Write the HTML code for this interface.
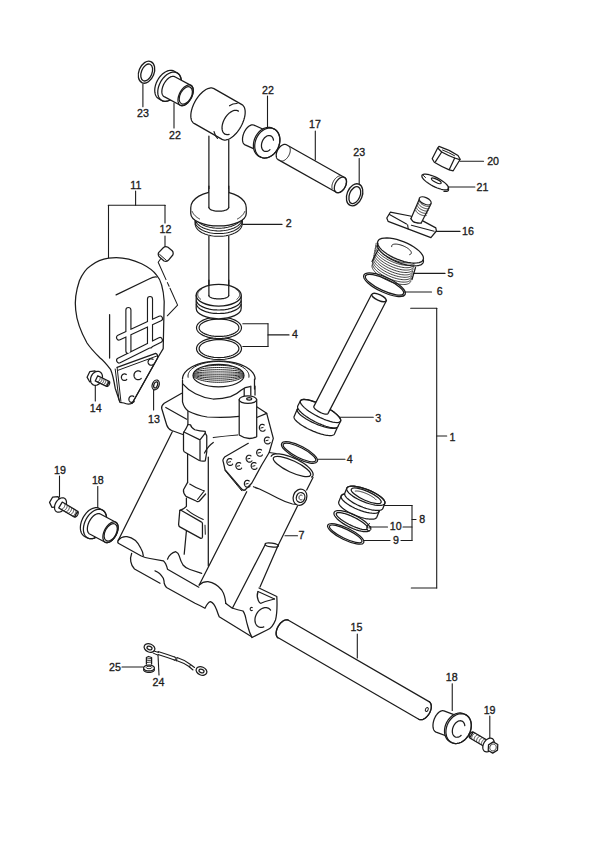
<!DOCTYPE html><html><head><meta charset="utf-8"><style>html,body{margin:0;padding:0;background:#fff}svg{display:block}text{font-family:"Liberation Sans",sans-serif;fill:#1c1c1c}</style></head><body>
<svg width="600" height="850" viewBox="0 0 600 850">
<rect width="600" height="850" fill="#fff"/>
<text transform="translate(143 116.5) scale(0.92 1)" font-size="11.6" text-anchor="middle" stroke="#1c1c1c" stroke-width="0.35">23</text>
<text transform="translate(174.9 138.5) scale(0.92 1)" font-size="11.6" text-anchor="middle" stroke="#1c1c1c" stroke-width="0.35">22</text>
<text transform="translate(268 93.55) scale(0.92 1)" font-size="11.6" text-anchor="middle" stroke="#1c1c1c" stroke-width="0.35">22</text>
<text transform="translate(315 127.8) scale(0.92 1)" font-size="11.6" text-anchor="middle" stroke="#1c1c1c" stroke-width="0.35">17</text>
<text transform="translate(359.15 155.6) scale(0.92 1)" font-size="11.6" text-anchor="middle" stroke="#1c1c1c" stroke-width="0.35">23</text>
<text transform="translate(493.1 164.9) scale(0.92 1)" font-size="11.6" text-anchor="middle" stroke="#1c1c1c" stroke-width="0.35">20</text>
<text transform="translate(482.4 190.9) scale(0.92 1)" font-size="11.6" text-anchor="middle" stroke="#1c1c1c" stroke-width="0.35">21</text>
<text transform="translate(467.9 235.2) scale(0.92 1)" font-size="11.6" text-anchor="middle" stroke="#1c1c1c" stroke-width="0.35">16</text>
<text transform="translate(135.9 188.9) scale(0.92 1)" font-size="11.6" text-anchor="middle" stroke="#1c1c1c" stroke-width="0.35">11</text>
<text transform="translate(165.4 233) scale(0.92 1)" font-size="11.6" text-anchor="middle" stroke="#1c1c1c" stroke-width="0.35">12</text>
<text transform="translate(288.6 227.1) scale(0.92 1)" font-size="11.6" text-anchor="middle" stroke="#1c1c1c" stroke-width="0.35">2</text>
<text transform="translate(450.4 276.8) scale(0.92 1)" font-size="11.6" text-anchor="middle" stroke="#1c1c1c" stroke-width="0.35">5</text>
<text transform="translate(439.7 295.2) scale(0.92 1)" font-size="11.6" text-anchor="middle" stroke="#1c1c1c" stroke-width="0.35">6</text>
<text transform="translate(294.9 338.3) scale(0.92 1)" font-size="11.6" text-anchor="middle" stroke="#1c1c1c" stroke-width="0.35">4</text>
<text transform="translate(95.7 411.6) scale(0.92 1)" font-size="11.6" text-anchor="middle" stroke="#1c1c1c" stroke-width="0.35">14</text>
<text transform="translate(153.9 422.8) scale(0.92 1)" font-size="11.6" text-anchor="middle" stroke="#1c1c1c" stroke-width="0.35">13</text>
<text transform="translate(378.3 421.5) scale(0.92 1)" font-size="11.6" text-anchor="middle" stroke="#1c1c1c" stroke-width="0.35">3</text>
<text transform="translate(452.4 440.5) scale(0.92 1)" font-size="11.6" text-anchor="middle" stroke="#1c1c1c" stroke-width="0.35">1</text>
<text transform="translate(349.6 463.1) scale(0.92 1)" font-size="11.6" text-anchor="middle" stroke="#1c1c1c" stroke-width="0.35">4</text>
<text transform="translate(59.9 474) scale(0.92 1)" font-size="11.6" text-anchor="middle" stroke="#1c1c1c" stroke-width="0.35">19</text>
<text transform="translate(97.8 484.05) scale(0.92 1)" font-size="11.6" text-anchor="middle" stroke="#1c1c1c" stroke-width="0.35">18</text>
<text transform="translate(422.15 523.1) scale(0.92 1)" font-size="11.6" text-anchor="middle" stroke="#1c1c1c" stroke-width="0.35">8</text>
<text transform="translate(395.65 530.3) scale(0.92 1)" font-size="11.6" text-anchor="middle" stroke="#1c1c1c" stroke-width="0.35">10</text>
<text transform="translate(301.4 539) scale(0.92 1)" font-size="11.6" text-anchor="middle" stroke="#1c1c1c" stroke-width="0.35">7</text>
<text transform="translate(396 543.55) scale(0.92 1)" font-size="11.6" text-anchor="middle" stroke="#1c1c1c" stroke-width="0.35">9</text>
<text transform="translate(356.4 630.6) scale(0.92 1)" font-size="11.6" text-anchor="middle" stroke="#1c1c1c" stroke-width="0.35">15</text>
<text transform="translate(114.9 670.8) scale(0.92 1)" font-size="11.6" text-anchor="middle" stroke="#1c1c1c" stroke-width="0.35">25</text>
<text transform="translate(158.4 686.2) scale(0.92 1)" font-size="11.6" text-anchor="middle" stroke="#1c1c1c" stroke-width="0.35">24</text>
<text transform="translate(451.7 680.9) scale(0.92 1)" font-size="11.6" text-anchor="middle" stroke="#1c1c1c" stroke-width="0.35">18</text>
<text transform="translate(489.6 713.8) scale(0.92 1)" font-size="11.6" text-anchor="middle" stroke="#1c1c1c" stroke-width="0.35">19</text>
<line x1="142.9" y1="84" x2="142.9" y2="106.7" stroke="#1c1c1c" stroke-width="1.1" stroke-linecap="round"/>
<line x1="174" y1="103" x2="174" y2="128" stroke="#1c1c1c" stroke-width="1.1" stroke-linecap="round"/>
<line x1="267.5" y1="96" x2="267.5" y2="127.4" stroke="#1c1c1c" stroke-width="1.1" stroke-linecap="round"/>
<line x1="315.3" y1="131" x2="315.3" y2="160" stroke="#1c1c1c" stroke-width="1.1" stroke-linecap="round"/>
<line x1="359.2" y1="158.5" x2="359.2" y2="184.2" stroke="#1c1c1c" stroke-width="1.1" stroke-linecap="round"/>
<line x1="460" y1="161.2" x2="483.5" y2="161.2" stroke="#1c1c1c" stroke-width="1.1" stroke-linecap="round"/>
<line x1="448" y1="187" x2="474.9" y2="187" stroke="#1c1c1c" stroke-width="1.1" stroke-linecap="round"/>
<line x1="436" y1="231.4" x2="460" y2="231.4" stroke="#1c1c1c" stroke-width="1.1" stroke-linecap="round"/>
<line x1="135.6" y1="191" x2="135.6" y2="205.3" stroke="#1c1c1c" stroke-width="1.1" stroke-linecap="round"/>
<line x1="108.5" y1="205.3" x2="165" y2="205.3" stroke="#1c1c1c" stroke-width="1.1" stroke-linecap="round"/>
<line x1="108.5" y1="205.3" x2="108.5" y2="258.2" stroke="#1c1c1c" stroke-width="1.1" stroke-linecap="round"/>
<line x1="165" y1="205.3" x2="165" y2="223" stroke="#1c1c1c" stroke-width="1.1" stroke-linecap="round"/>
<line x1="165" y1="236" x2="165" y2="246.5" stroke="#1c1c1c" stroke-width="1.1" stroke-linecap="round"/>
<line x1="243" y1="224.4" x2="282" y2="224.4" stroke="#1c1c1c" stroke-width="1.1" stroke-linecap="round"/>
<line x1="413.5" y1="273.4" x2="445" y2="273.4" stroke="#1c1c1c" stroke-width="1.1" stroke-linecap="round"/>
<line x1="404.5" y1="292" x2="431.5" y2="292" stroke="#1c1c1c" stroke-width="1.1" stroke-linecap="round"/>
<line x1="242.8" y1="323.8" x2="268" y2="323.8" stroke="#1c1c1c" stroke-width="1.1" stroke-linecap="round"/>
<line x1="268" y1="323.8" x2="268" y2="346.5" stroke="#1c1c1c" stroke-width="1.1" stroke-linecap="round"/>
<line x1="242.8" y1="346.5" x2="268" y2="346.5" stroke="#1c1c1c" stroke-width="1.1" stroke-linecap="round"/>
<line x1="268" y1="334.9" x2="289" y2="334.9" stroke="#1c1c1c" stroke-width="1.1" stroke-linecap="round"/>
<line x1="95.3" y1="384.7" x2="95.3" y2="400.9" stroke="#1c1c1c" stroke-width="1.1" stroke-linecap="round"/>
<line x1="153.6" y1="390" x2="153.6" y2="410" stroke="#1c1c1c" stroke-width="1.1" stroke-linecap="round"/>
<line x1="338.3" y1="417.3" x2="373.3" y2="417.3" stroke="#1c1c1c" stroke-width="1.1" stroke-linecap="round"/>
<line x1="410.7" y1="308.3" x2="436.7" y2="308.3" stroke="#1c1c1c" stroke-width="1.1" stroke-linecap="round"/>
<line x1="436.7" y1="308.3" x2="436.7" y2="588" stroke="#1c1c1c" stroke-width="1.1" stroke-linecap="round"/>
<line x1="411.3" y1="588" x2="436.7" y2="588" stroke="#1c1c1c" stroke-width="1.1" stroke-linecap="round"/>
<line x1="436.7" y1="436" x2="446.7" y2="436" stroke="#1c1c1c" stroke-width="1.1" stroke-linecap="round"/>
<line x1="318.3" y1="459.3" x2="345" y2="459.3" stroke="#1c1c1c" stroke-width="1.1" stroke-linecap="round"/>
<line x1="59.5" y1="476" x2="59.5" y2="497" stroke="#1c1c1c" stroke-width="1.1" stroke-linecap="round"/>
<line x1="97.75" y1="486.5" x2="97.75" y2="507.5" stroke="#1c1c1c" stroke-width="1.1" stroke-linecap="round"/>
<line x1="383.75" y1="505.5" x2="412" y2="505.5" stroke="#1c1c1c" stroke-width="1.1" stroke-linecap="round"/>
<line x1="412" y1="505.5" x2="412" y2="540.5" stroke="#1c1c1c" stroke-width="1.1" stroke-linecap="round"/>
<line x1="403" y1="527" x2="412" y2="527" stroke="#1c1c1c" stroke-width="1.1" stroke-linecap="round"/>
<line x1="412" y1="519.5" x2="416" y2="519.5" stroke="#1c1c1c" stroke-width="1.1" stroke-linecap="round"/>
<line x1="370" y1="527" x2="387.5" y2="527" stroke="#1c1c1c" stroke-width="1.1" stroke-linecap="round"/>
<line x1="364" y1="540.5" x2="390" y2="540.5" stroke="#1c1c1c" stroke-width="1.1" stroke-linecap="round"/>
<line x1="401" y1="540.5" x2="412" y2="540.5" stroke="#1c1c1c" stroke-width="1.1" stroke-linecap="round"/>
<line x1="285" y1="535.8" x2="297.5" y2="535.8" stroke="#1c1c1c" stroke-width="1.1" stroke-linecap="round"/>
<line x1="357.3" y1="634" x2="357.3" y2="658" stroke="#1c1c1c" stroke-width="1.1" stroke-linecap="round"/>
<line x1="122" y1="667" x2="143" y2="667" stroke="#1c1c1c" stroke-width="1.1" stroke-linecap="round"/>
<line x1="158" y1="655" x2="159" y2="675" stroke="#1c1c1c" stroke-width="1.1" stroke-linecap="round"/>
<line x1="452.25" y1="683.8" x2="452.25" y2="710.4" stroke="#1c1c1c" stroke-width="1.1" stroke-linecap="round"/>
<line x1="489.8" y1="716" x2="489.8" y2="738" stroke="#1c1c1c" stroke-width="1.1" stroke-linecap="round"/>
<ellipse cx="146.5" cy="72.2" rx="7.6" ry="11.5" transform="rotate(22 146.5 72.2)" fill="none" stroke="#1c1c1c" stroke-width="1.3"/>
<ellipse cx="146.7" cy="72.5" rx="5.3" ry="8.9" transform="rotate(22 146.7 72.5)" fill="none" stroke="#1c1c1c" stroke-width="1.3"/>
<ellipse cx="354.6" cy="194.8" rx="7.6" ry="11.5" transform="rotate(22 354.6 194.8)" fill="none" stroke="#1c1c1c" stroke-width="1.3"/>
<ellipse cx="354.8" cy="195.1" rx="5.3" ry="8.9" transform="rotate(22 354.8 195.1)" fill="none" stroke="#1c1c1c" stroke-width="1.3"/>
<path d="M158.71 98.75 L158.04 98.31 L157.43 97.8 L156.87 97.2 L156.37 96.53 L155.94 95.79 L155.57 94.98 L155.26 94.12 L155.03 93.19 L154.86 92.22 L154.77 91.19 L154.75 90.14 L154.8 89.05 L154.93 87.93 L155.12 86.8 L155.39 85.65 L155.73 84.51 L156.13 83.36 L156.59 82.23 L157.12 81.11 L157.7 80.01 L158.34 78.95 L159.03 77.93 L159.76 76.94 L160.54 76.01 L161.35 75.13 L162.2 74.32 L163.07 73.57 L163.96 72.89 L164.87 72.28 L165.79 71.75 L166.71 71.31 L167.63 70.95 L168.54 70.67 L169.45 70.49 L170.33 70.39 L171.19 70.39 L172.02 70.47 L172.82 70.64 L173.58 70.9 L174.29 71.25 L177.29 72.95 L177.96 73.39 L178.57 73.9 L179.13 74.5 L179.63 75.17 L180.06 75.91 L180.43 76.72 L180.74 77.58 L180.97 78.51 L181.14 79.48 L181.23 80.51 L181.25 81.56 L181.2 82.65 L181.07 83.77 L180.88 84.9 L180.61 86.05 L180.27 87.19 L179.87 88.34 L179.41 89.47 L178.88 90.59 L178.3 91.69 L177.66 92.75 L176.97 93.77 L176.24 94.76 L175.46 95.69 L174.65 96.57 L173.8 97.38 L172.93 98.13 L172.04 98.81 L171.13 99.42 L170.21 99.95 L169.29 100.39 L168.37 100.75 L167.46 101.03 L166.55 101.21 L165.67 101.31 L164.81 101.31 L163.98 101.23 L163.18 101.06 L162.42 100.8 L161.71 100.45 Z" fill="#fff" stroke="#1c1c1c" stroke-width="1.25" stroke-linejoin="round" stroke-linecap="round" />
<path d="M161.71 100.45 L163.18 101.06 L164.81 101.31 L166.55 101.21 L168.37 100.75 L170.21 99.95 L172.04 98.81 L173.8 97.38 L175.46 95.69 L176.97 93.77 L178.3 91.69 L179.41 89.47 L180.27 87.19 L180.88 84.9 L181.2 82.65 L181.23 80.51 L180.97 78.51 L180.43 76.72 L179.63 75.17 L178.57 73.9 L177.29 72.95 L175.82 72.34 L174.19 72.09 L172.45 72.19 L170.63 72.65 L168.79 73.45 L166.96 74.59 L165.2 76.02 L163.54 77.71 L162.03 79.63 L160.7 81.71 L159.59 83.93 L158.73 86.21 L158.12 88.5 L157.8 90.75 L157.77 92.89 L158.03 94.89 L158.57 96.68 L159.37 98.23 L160.43 99.5 L161.71 100.45 Z" fill="none" stroke="#1c1c1c" stroke-width="1.25" stroke-linejoin="round" stroke-linecap="round" />
<path d="M164.18 96.67 L163.76 96.41 L163.38 96.09 L163.04 95.71 L162.74 95.27 L162.48 94.79 L162.27 94.25 L162.1 93.67 L161.97 93.04 L161.89 92.38 L161.86 91.68 L161.87 90.95 L161.94 90.19 L162.04 89.41 L162.2 88.62 L162.4 87.81 L162.64 87 L162.93 86.18 L163.25 85.37 L163.62 84.56 L164.02 83.77 L164.45 83 L164.92 82.25 L165.41 81.53 L165.93 80.84 L166.47 80.18 L167.03 79.57 L167.61 79 L168.19 78.47 L168.79 78 L169.39 77.58 L169.99 77.22 L170.59 76.92 L171.18 76.67 L171.76 76.49 L172.32 76.37 L172.87 76.32 L173.4 76.32 L173.9 76.4 L174.38 76.53 L174.82 76.73 L190.92 85.33 L191.34 85.59 L191.72 85.91 L192.06 86.29 L192.36 86.73 L192.62 87.21 L192.83 87.75 L193 88.33 L193.13 88.96 L193.21 89.62 L193.24 90.32 L193.23 91.05 L193.16 91.81 L193.06 92.59 L192.9 93.38 L192.7 94.19 L192.46 95 L192.17 95.82 L191.85 96.63 L191.48 97.44 L191.08 98.23 L190.65 99 L190.18 99.75 L189.69 100.47 L189.17 101.16 L188.63 101.82 L188.07 102.43 L187.49 103 L186.91 103.53 L186.31 104 L185.71 104.42 L185.11 104.78 L184.51 105.08 L183.92 105.33 L183.34 105.51 L182.78 105.63 L182.23 105.68 L181.7 105.68 L181.2 105.6 L180.72 105.47 L180.28 105.27 Z" fill="#fff" stroke="#1c1c1c" stroke-width="1.25" stroke-linejoin="round" stroke-linecap="round" />
<path d="M180.28 105.27 L181.2 105.6 L182.23 105.68 L183.34 105.51 L184.51 105.08 L185.71 104.42 L186.91 103.53 L188.07 102.43 L189.17 101.16 L190.18 99.75 L191.08 98.23 L191.85 96.63 L192.46 95 L192.9 93.38 L193.16 91.81 L193.24 90.32 L193.13 88.96 L192.83 87.75 L192.36 86.73 L191.72 85.91 L190.92 85.33 L190 85 L188.97 84.92 L187.86 85.09 L186.69 85.52 L185.49 86.18 L184.29 87.07 L183.13 88.17 L182.03 89.44 L181.02 90.85 L180.12 92.37 L179.35 93.97 L178.74 95.6 L178.3 97.22 L178.04 98.79 L177.96 100.28 L178.07 101.64 L178.37 102.85 L178.84 103.87 L179.48 104.69 L180.28 105.27 Z" fill="none" stroke="#1c1c1c" stroke-width="1.25" stroke-linejoin="round" stroke-linecap="round" />
<ellipse cx="185.8" cy="95.4" rx="5.6" ry="9.4" transform="rotate(28 185.8 95.4)" fill="none" stroke="#1c1c1c" stroke-width="1.25"/>
<line x1="208.9" y1="136" x2="208.9" y2="200" stroke="#1c1c1c" stroke-width="1.25" stroke-linecap="round"/>
<line x1="228.75" y1="140" x2="228.75" y2="200" stroke="#1c1c1c" stroke-width="1.25" stroke-linecap="round"/>
<path d="M194.08 123.36 L193.43 122.92 L192.84 122.37 L192.32 121.73 L191.88 120.98 L191.51 120.14 L191.22 119.22 L191 118.21 L190.87 117.13 L190.82 115.98 L190.84 114.77 L190.95 113.5 L191.14 112.19 L191.41 110.84 L191.76 109.46 L192.18 108.06 L192.68 106.65 L193.24 105.23 L193.87 103.82 L194.57 102.42 L195.32 101.04 L196.12 99.69 L196.98 98.38 L197.87 97.12 L198.81 95.92 L199.78 94.77 L200.77 93.7 L201.78 92.7 L202.81 91.78 L203.84 90.95 L204.88 90.21 L205.91 89.57 L206.92 89.04 L207.92 88.6 L208.9 88.28 L209.84 88.06 L210.75 87.95 L211.62 87.96 L212.44 88.07 L213.21 88.3 L213.92 88.64 L241.92 104.64 L242.57 105.08 L243.16 105.63 L243.68 106.27 L244.12 107.02 L244.49 107.86 L244.78 108.78 L245 109.79 L245.13 110.87 L245.18 112.02 L245.16 113.23 L245.05 114.5 L244.86 115.81 L244.59 117.16 L244.24 118.54 L243.82 119.94 L243.32 121.35 L242.76 122.77 L242.13 124.18 L241.43 125.58 L240.68 126.96 L239.88 128.31 L239.02 129.62 L238.13 130.88 L237.19 132.08 L236.22 133.23 L235.23 134.3 L234.22 135.3 L233.19 136.22 L232.16 137.05 L231.12 137.79 L230.09 138.43 L229.08 138.96 L228.08 139.4 L227.1 139.72 L226.16 139.94 L225.25 140.05 L224.38 140.04 L223.56 139.93 L222.79 139.7 L222.08 139.36 Z" fill="#fff" stroke="#1c1c1c" stroke-width="1.25" stroke-linejoin="round" stroke-linecap="round" />
<path d="M229.12 134.42 L228.01 134.63 L226.95 134.65 L225.96 134.48 L225.06 134.13 L224.25 133.61 L223.55 132.91 L222.98 132.06 L222.53 131.06 L222.22 129.94 L222.05 128.7 L222.03 127.36 L222.15 125.95 L222.41 124.49 L222.81 123 L223.34 121.5 L223.99 120.02 L224.76 118.57 L225.63 117.19 L226.59 115.88 L227.63 114.68 L228.72 113.59 L229.86 112.64 L231.02 111.84 L232.19 111.2 L233.34 110.73 L234.47 110.45 L235.56 110.34 L236.58 110.42 L237.53 110.68 L238.38 111.12" fill="none" stroke="#1c1c1c" stroke-width="1.25" stroke-linejoin="round" stroke-linecap="round" />
<path d="M229.5 105.8 Q233 103.3 237.2 103.5" fill="none" stroke="#1c1c1c" stroke-width="1.1" stroke-linejoin="round" stroke-linecap="round" />
<path d="M214 131.5 Q215 135.5 217.5 138.5" fill="none" stroke="#1c1c1c" stroke-width="1.1" stroke-linejoin="round" stroke-linecap="round" />
<path d="M278.13 159.61 L277.8 159.39 L277.49 159.12 L277.21 158.82 L276.96 158.47 L276.75 158.09 L276.57 157.66 L276.42 157.21 L276.31 156.72 L276.24 156.21 L276.21 155.67 L276.21 155.11 L276.25 154.53 L276.33 153.94 L276.45 153.33 L276.6 152.72 L276.78 152.11 L277.01 151.5 L277.26 150.89 L277.54 150.29 L277.86 149.7 L278.2 149.13 L278.56 148.57 L278.95 148.04 L279.36 147.53 L279.79 147.05 L280.23 146.61 L280.69 146.2 L281.15 145.82 L281.63 145.49 L282.11 145.19 L282.58 144.94 L283.06 144.74 L283.53 144.58 L284 144.46 L284.45 144.4 L284.89 144.38 L285.32 144.41 L285.72 144.49 L286.11 144.62 L286.47 144.79 L344.57 177.49 L344.9 177.71 L345.21 177.98 L345.49 178.28 L345.74 178.63 L345.95 179.01 L346.13 179.44 L346.28 179.89 L346.39 180.38 L346.46 180.89 L346.49 181.43 L346.49 181.99 L346.45 182.57 L346.37 183.16 L346.25 183.77 L346.1 184.38 L345.92 184.99 L345.69 185.6 L345.44 186.21 L345.16 186.81 L344.84 187.4 L344.5 187.97 L344.14 188.53 L343.75 189.06 L343.34 189.57 L342.91 190.05 L342.47 190.49 L342.01 190.9 L341.55 191.28 L341.07 191.61 L340.59 191.91 L340.12 192.16 L339.64 192.36 L339.17 192.52 L338.7 192.64 L338.25 192.7 L337.81 192.72 L337.38 192.69 L336.98 192.61 L336.59 192.48 L336.23 192.31 Z" fill="#fff" stroke="#1c1c1c" stroke-width="1.25" stroke-linejoin="round" stroke-linecap="round" />
<path d="M336.23 192.31 L336.98 192.61 L337.81 192.72 L338.7 192.64 L339.64 192.36 L340.59 191.91 L341.55 191.28 L342.47 190.49 L343.34 189.57 L344.14 188.53 L344.84 187.4 L345.44 186.21 L345.92 184.99 L346.25 183.77 L346.45 182.57 L346.49 181.43 L346.39 180.38 L346.13 179.44 L345.74 178.63 L345.21 177.98 L344.57 177.49 L343.82 177.19 L342.99 177.08 L342.1 177.16 L341.16 177.44 L340.21 177.89 L339.25 178.52 L338.33 179.31 L337.46 180.23 L336.66 181.27 L335.96 182.4 L335.36 183.59 L334.88 184.81 L334.55 186.03 L334.35 187.23 L334.31 188.37 L334.41 189.42 L334.67 190.36 L335.06 191.17 L335.59 191.82 L336.23 192.31 Z" fill="none" stroke="#1c1c1c" stroke-width="1.25" stroke-linejoin="round" stroke-linecap="round" />
<path d="M281.33 161.11 L281.81 161.12 L282.3 161.07 L282.82 160.97 L283.34 160.8 L283.87 160.58 L284.4 160.31 L284.93 159.98 L285.45 159.6 L285.97 159.17 L286.47 158.7 L286.95 158.18 L287.42 157.63 L287.86 157.05 L288.27 156.44 L288.65 155.8 L288.99 155.14 L289.3 154.47 L289.57 153.8 L289.8 153.11 L289.99 152.43 L290.13 151.76 L290.23 151.1 L290.28 150.45 L290.29 149.83 L290.25 149.23 L290.16 148.66 L290.03 148.13 L289.85 147.64 L289.63 147.19 L289.37 146.79" fill="none" stroke="#1c1c1c" stroke-width="1.0" stroke-linejoin="round" stroke-linecap="round" />
<path d="M332.17 188.77 L332.05 188.31 L331.97 187.83 L331.92 187.32 L331.91 186.79 L331.93 186.24 L331.98 185.67 L332.07 185.1 L332.2 184.51 L332.36 183.92 L332.55 183.33 L332.77 182.74 L333.02 182.16 L333.3 181.58 L333.6 181.01 L333.93 180.46 L334.29 179.93 L334.66 179.42 L335.06 178.93 L335.47 178.47 L335.9 178.04 L336.33 177.64 L336.78 177.27 L337.24 176.95 L337.69 176.65 L338.15 176.4 L338.61 176.19 L339.07 176.02 L339.52 175.9 L339.96 175.82 L340.39 175.78" fill="none" stroke="#1c1c1c" stroke-width="1.0" stroke-linejoin="round" stroke-linecap="round" />
<path d="M245.08 144.85 L244.67 144.63 L244.29 144.35 L243.94 144.01 L243.62 143.62 L243.34 143.17 L243.1 142.68 L242.9 142.13 L242.74 141.54 L242.62 140.91 L242.54 140.25 L242.51 139.55 L242.52 138.83 L242.57 138.08 L242.66 137.31 L242.8 136.53 L242.98 135.73 L243.2 134.94 L243.46 134.14 L243.75 133.35 L244.08 132.57 L244.44 131.8 L244.84 131.06 L245.26 130.34 L245.71 129.64 L246.18 128.98 L246.68 128.36 L247.19 127.78 L247.71 127.24 L248.25 126.75 L248.79 126.31 L249.34 125.93 L249.89 125.6 L250.44 125.33 L250.98 125.12 L251.51 124.97 L252.03 124.88 L252.53 124.85 L253.02 124.89 L253.48 124.99 L253.92 125.15 L270.42 132.55 L270.83 132.77 L271.21 133.05 L271.56 133.39 L271.88 133.78 L272.16 134.23 L272.4 134.72 L272.6 135.27 L272.76 135.86 L272.88 136.49 L272.96 137.15 L272.99 137.85 L272.98 138.57 L272.93 139.32 L272.84 140.09 L272.7 140.87 L272.52 141.67 L272.3 142.46 L272.04 143.26 L271.75 144.05 L271.42 144.83 L271.06 145.6 L270.66 146.34 L270.24 147.06 L269.79 147.76 L269.32 148.42 L268.82 149.04 L268.31 149.62 L267.79 150.16 L267.25 150.65 L266.71 151.09 L266.16 151.47 L265.61 151.8 L265.06 152.07 L264.52 152.28 L263.99 152.43 L263.47 152.52 L262.97 152.55 L262.48 152.51 L262.02 152.41 L261.58 152.25 Z" fill="#fff" stroke="#1c1c1c" stroke-width="1.25" stroke-linejoin="round" stroke-linecap="round" />
<path d="M259.46 156.56 L258.64 156.13 L257.86 155.61 L257.13 155.01 L256.46 154.34 L255.84 153.58 L255.29 152.76 L254.8 151.88 L254.38 150.94 L254.04 149.94 L253.77 148.9 L253.57 147.82 L253.45 146.71 L253.41 145.56 L253.44 144.4 L253.55 143.23 L253.74 142.05 L254.01 140.88 L254.35 139.71 L254.76 138.56 L255.24 137.43 L255.78 136.34 L256.39 135.28 L257.06 134.26 L257.78 133.3 L258.56 132.39 L259.38 131.54 L260.24 130.76 L261.13 130.06 L262.06 129.42 L263.01 128.87 L263.98 128.4 L264.96 128.02 L265.95 127.73 L266.94 127.52 L267.92 127.41 L268.89 127.39 L269.84 127.47 L270.77 127.63 L271.67 127.89 L272.54 128.24 L273.84 128.84 L274.66 129.27 L275.44 129.79 L276.17 130.39 L276.84 131.06 L277.46 131.82 L278.01 132.64 L278.5 133.52 L278.92 134.46 L279.26 135.46 L279.53 136.5 L279.73 137.58 L279.85 138.69 L279.89 139.84 L279.86 141 L279.75 142.17 L279.56 143.35 L279.29 144.52 L278.95 145.69 L278.54 146.84 L278.06 147.97 L277.52 149.06 L276.91 150.12 L276.24 151.14 L275.52 152.1 L274.74 153.01 L273.92 153.86 L273.06 154.64 L272.17 155.34 L271.24 155.98 L270.29 156.53 L269.32 157 L268.34 157.38 L267.35 157.67 L266.36 157.88 L265.38 157.99 L264.41 158.01 L263.46 157.93 L262.53 157.77 L261.63 157.51 L260.76 157.16 Z" fill="#fff" stroke="#1c1c1c" stroke-width="1.25" stroke-linejoin="round" stroke-linecap="round" />
<path d="M260.76 157.16 L262.53 157.77 L264.41 158.01 L266.36 157.88 L268.34 157.38 L270.29 156.53 L272.17 155.34 L273.92 153.86 L275.52 152.1 L276.91 150.12 L278.06 147.97 L278.95 145.69 L279.56 143.35 L279.86 141 L279.85 138.69 L279.53 136.5 L278.92 134.46 L278.01 132.64 L276.84 131.06 L275.44 129.79 L273.84 128.84 L272.07 128.23 L270.19 127.99 L268.24 128.12 L266.26 128.62 L264.31 129.47 L262.43 130.66 L260.68 132.14 L259.08 133.9 L257.69 135.88 L256.54 138.03 L255.65 140.31 L255.04 142.65 L254.74 145 L254.75 147.31 L255.07 149.5 L255.68 151.54 L256.59 153.36 L257.76 154.94 L259.16 156.21 L260.76 157.16 Z" fill="none" stroke="#1c1c1c" stroke-width="1.25" stroke-linejoin="round" stroke-linecap="round" />
<path d="M269.97 149.63 L269.27 150.22 L268.53 150.7 L267.79 151.07 L267.03 151.32 L266.29 151.46 L265.56 151.47 L264.87 151.35 L264.21 151.12 L263.61 150.77 L263.06 150.3 L262.59 149.73 L262.19 149.07 L261.87 148.31 L261.64 147.49 L261.5 146.6 L261.45 145.67 L261.49 144.7 L261.63 143.71 L261.86 142.72 L262.18 141.74 L262.58 140.79 L263.05 139.88 L263.59 139.03 L264.2 138.24 L264.85 137.54 L265.55 136.93 L266.27 136.42 L267.02 136.02 L267.77 135.73 L268.52 135.57 L269.25 135.53 L269.95 135.61 L270.62 135.81 L271.24 136.13 L271.8 136.57 L272.3 137.11 L272.72 137.75 L273.06 138.48 L273.31 139.29 L273.48 140.16" fill="none" stroke="#1c1c1c" stroke-width="1.25" stroke-linejoin="round" stroke-linecap="round" />
<path d="M242.2 210.5 L242.13 211.47 L241.91 212.42 L241.55 213.37 L241.05 214.3 L240.41 215.21 L239.64 216.08 L238.74 216.93 L237.71 217.73 L236.57 218.49 L235.32 219.2 L233.96 219.85 L232.51 220.45 L230.98 220.99 L229.37 221.46 L227.69 221.86 L225.96 222.2 L224.19 222.46 L222.38 222.65 L220.54 222.76 L218.7 222.8 L216.86 222.76 L215.02 222.65 L213.21 222.46 L211.44 222.2 L209.71 221.86 L208.03 221.46 L206.42 220.99 L204.89 220.45 L203.44 219.85 L202.08 219.2 L200.83 218.49 L199.69 217.73 L198.66 216.93 L197.76 216.08 L196.99 215.21 L196.35 214.3 L195.85 213.37 L195.49 212.42 L195.27 211.47 L195.2 210.5" fill="none" stroke="#1c1c1c" stroke-width="1.05" stroke-linejoin="round" stroke-linecap="round" />
<path d="M242.2 213.2 L242.13 214.17 L241.91 215.12 L241.55 216.07 L241.05 217 L240.41 217.91 L239.64 218.78 L238.74 219.63 L237.71 220.43 L236.57 221.19 L235.32 221.9 L233.96 222.55 L232.51 223.15 L230.98 223.69 L229.37 224.16 L227.69 224.56 L225.96 224.9 L224.19 225.16 L222.38 225.35 L220.54 225.46 L218.7 225.5 L216.86 225.46 L215.02 225.35 L213.21 225.16 L211.44 224.9 L209.71 224.56 L208.03 224.16 L206.42 223.69 L204.89 223.15 L203.44 222.55 L202.08 221.9 L200.83 221.19 L199.69 220.43 L198.66 219.63 L197.76 218.78 L196.99 217.91 L196.35 217 L195.85 216.07 L195.49 215.12 L195.27 214.17 L195.2 213.2" fill="none" stroke="#1c1c1c" stroke-width="1.05" stroke-linejoin="round" stroke-linecap="round" />
<path d="M242.2 215.9 L242.13 216.87 L241.91 217.82 L241.55 218.77 L241.05 219.7 L240.41 220.61 L239.64 221.48 L238.74 222.33 L237.71 223.13 L236.57 223.89 L235.32 224.6 L233.96 225.25 L232.51 225.85 L230.98 226.39 L229.37 226.86 L227.69 227.26 L225.96 227.6 L224.19 227.86 L222.38 228.05 L220.54 228.16 L218.7 228.2 L216.86 228.16 L215.02 228.05 L213.21 227.86 L211.44 227.6 L209.71 227.26 L208.03 226.86 L206.42 226.39 L204.89 225.85 L203.44 225.25 L202.08 224.6 L200.83 223.89 L199.69 223.13 L198.66 222.33 L197.76 221.48 L196.99 220.61 L196.35 219.7 L195.85 218.77 L195.49 217.82 L195.27 216.87 L195.2 215.9" fill="none" stroke="#1c1c1c" stroke-width="1.05" stroke-linejoin="round" stroke-linecap="round" />
<path d="M242.2 218.6 L242.13 219.57 L241.91 220.52 L241.55 221.47 L241.05 222.4 L240.41 223.31 L239.64 224.18 L238.74 225.03 L237.71 225.83 L236.57 226.59 L235.32 227.3 L233.96 227.95 L232.51 228.55 L230.98 229.09 L229.37 229.56 L227.69 229.96 L225.96 230.3 L224.19 230.56 L222.38 230.75 L220.54 230.86 L218.7 230.9 L216.86 230.86 L215.02 230.75 L213.21 230.56 L211.44 230.3 L209.71 229.96 L208.03 229.56 L206.42 229.09 L204.89 228.55 L203.44 227.95 L202.08 227.3 L200.83 226.59 L199.69 225.83 L198.66 225.03 L197.76 224.18 L196.99 223.31 L196.35 222.4 L195.85 221.47 L195.49 220.52 L195.27 219.57 L195.2 218.6" fill="none" stroke="#1c1c1c" stroke-width="1.05" stroke-linejoin="round" stroke-linecap="round" />
<path d="M242.2 221.3 L242.13 222.27 L241.91 223.22 L241.55 224.17 L241.05 225.1 L240.41 226.01 L239.64 226.88 L238.74 227.73 L237.71 228.53 L236.57 229.29 L235.32 230 L233.96 230.65 L232.51 231.25 L230.98 231.79 L229.37 232.26 L227.69 232.66 L225.96 233 L224.19 233.26 L222.38 233.45 L220.54 233.56 L218.7 233.6 L216.86 233.56 L215.02 233.45 L213.21 233.26 L211.44 233 L209.71 232.66 L208.03 232.26 L206.42 231.79 L204.89 231.25 L203.44 230.65 L202.08 230 L200.83 229.29 L199.69 228.53 L198.66 227.73 L197.76 226.88 L196.99 226.01 L196.35 225.1 L195.85 224.17 L195.49 223.22 L195.27 222.27 L195.2 221.3" fill="none" stroke="#1c1c1c" stroke-width="1.05" stroke-linejoin="round" stroke-linecap="round" />
<path d="M242.2 224 L242.13 224.97 L241.91 225.92 L241.55 226.87 L241.05 227.8 L240.41 228.71 L239.64 229.58 L238.74 230.43 L237.71 231.23 L236.57 231.99 L235.32 232.7 L233.96 233.35 L232.51 233.95 L230.98 234.49 L229.37 234.96 L227.69 235.36 L225.96 235.7 L224.19 235.96 L222.38 236.15 L220.54 236.26 L218.7 236.3 L216.86 236.26 L215.02 236.15 L213.21 235.96 L211.44 235.7 L209.71 235.36 L208.03 234.96 L206.42 234.49 L204.89 233.95 L203.44 233.35 L202.08 232.7 L200.83 231.99 L199.69 231.23 L198.66 230.43 L197.76 229.58 L196.99 228.71 L196.35 227.8 L195.85 226.87 L195.49 225.92 L195.27 224.97 L195.2 224" fill="none" stroke="#1c1c1c" stroke-width="1.05" stroke-linejoin="round" stroke-linecap="round" />
<line x1="195.2" y1="212" x2="195.2" y2="224" stroke="#1c1c1c" stroke-width="1.25" stroke-linecap="round"/>
<line x1="242.2" y1="212" x2="242.2" y2="224" stroke="#1c1c1c" stroke-width="1.25" stroke-linecap="round"/>
<line x1="208.9" y1="236" x2="208.9" y2="295" stroke="#1c1c1c" stroke-width="1.25" stroke-linecap="round"/>
<line x1="228.75" y1="236" x2="228.75" y2="295" stroke="#1c1c1c" stroke-width="1.25" stroke-linecap="round"/>
<path d="M190.75 207.75 L190.75 213.5 A27.75 12.5 0 0 0 246.25 213.5 L246.25 207.75 A27.75 16.5 0 0 0 190.75 207.75 Z" fill="#fff" stroke="#1c1c1c" stroke-width="1.25" stroke-linejoin="round" stroke-linecap="round" />
<path d="M199.55 218.97 L199.28 218.81 L199.01 218.66 L198.75 218.5 L198.49 218.35 L198.24 218.19 L197.99 218.02 L197.74 217.86 L197.5 217.69 L197.26 217.53 L197.03 217.36 L196.8 217.18 L196.57 217.01 L196.35 216.83 L196.14 216.66 L195.93 216.48 L195.72 216.3 L195.52 216.12 L195.33 215.93 L195.13 215.75 L194.95 215.56 L194.77 215.37 L194.59 215.18 L194.42 214.99 L194.25 214.8 L194.09 214.61 L193.93 214.41 L193.78 214.22 L193.63 214.02 L193.49 213.82 L193.36 213.62 L193.23 213.42 L193.1 213.22 L192.98 213.02 L192.86 212.81 L192.75 212.61 L192.65 212.41 L192.55 212.2 L192.46 211.99 L192.37 211.79 L192.29 211.58" fill="none" stroke="#1c1c1c" stroke-width="1.0" stroke-linejoin="round" stroke-linecap="round" />
<path d="M244.71 211.58 L244.63 211.79 L244.54 211.99 L244.45 212.2 L244.35 212.41 L244.25 212.61 L244.14 212.81 L244.02 213.02 L243.9 213.22 L243.77 213.42 L243.64 213.62 L243.51 213.82 L243.37 214.02 L243.22 214.22 L243.07 214.41 L242.91 214.61 L242.75 214.8 L242.58 214.99 L242.41 215.18 L242.23 215.37 L242.05 215.56 L241.87 215.75 L241.67 215.93 L241.48 216.12 L241.28 216.3 L241.07 216.48 L240.86 216.66 L240.65 216.83 L240.43 217.01 L240.2 217.18 L239.97 217.36 L239.74 217.53 L239.5 217.69 L239.26 217.86 L239.01 218.02 L238.76 218.19 L238.51 218.35 L238.25 218.5 L237.99 218.66 L237.72 218.81 L237.45 218.97" fill="none" stroke="#1c1c1c" stroke-width="1.0" stroke-linejoin="round" stroke-linecap="round" />
<path d="M208.9 189 L208.9 207.3 A9.9 3.9 0 0 0 228.75 207.3 L228.75 189 Z" fill="#fff" stroke="#1c1c1c" stroke-width="0" stroke-linejoin="round" stroke-linecap="round" />
<line x1="208.9" y1="186" x2="208.9" y2="207.3" stroke="#1c1c1c" stroke-width="1.25" stroke-linecap="round"/>
<line x1="228.75" y1="186" x2="228.75" y2="207.3" stroke="#1c1c1c" stroke-width="1.25" stroke-linecap="round"/>
<path d="M228.7 207.3 L228.67 207.61 L228.58 207.91 L228.43 208.21 L228.22 208.51 L227.95 208.79 L227.62 209.07 L227.24 209.34 L226.81 209.59 L226.33 209.83 L225.8 210.06 L225.23 210.27 L224.62 210.46 L223.97 210.63 L223.29 210.77 L222.59 210.9 L221.86 211.01 L221.11 211.09 L220.35 211.15 L219.58 211.19 L218.8 211.2 L218.02 211.19 L217.25 211.15 L216.49 211.09 L215.74 211.01 L215.01 210.9 L214.31 210.77 L213.63 210.63 L212.98 210.46 L212.37 210.27 L211.8 210.06 L211.27 209.83 L210.79 209.59 L210.36 209.34 L209.98 209.07 L209.65 208.79 L209.38 208.51 L209.17 208.21 L209.02 207.91 L208.93 207.61 L208.9 207.3" fill="none" stroke="#1c1c1c" stroke-width="1.25" stroke-linejoin="round" stroke-linecap="round" />
<path d="M241.5 348.6 L241.31 350.04 L240.73 351.45 L239.79 352.81 L238.49 354.1 L236.85 355.3 L234.91 356.38 L232.7 357.33 L230.25 358.13 L227.61 358.76 L224.82 359.23 L221.94 359.51 L219 359.6 L216.06 359.51 L213.18 359.23 L210.39 358.76 L207.75 358.13 L205.3 357.33 L203.09 356.38 L201.15 355.3 L199.51 354.1 L198.21 352.81 L197.27 351.45 L196.69 350.04 L196.5 348.6 L196.69 347.16 L197.27 345.75 L198.21 344.39 L199.51 343.1 L201.15 341.9 L203.09 340.82 L205.3 339.87 L207.75 339.07 L210.39 338.44 L213.18 337.97 L216.06 337.69 L219 337.6 L221.94 337.69 L224.82 337.97 L227.61 338.44 L230.25 339.07 L232.7 339.87 L234.91 340.82 L236.85 341.9 L238.49 343.1 L239.79 344.39 L240.73 345.75 L241.31 347.16 L241.5 348.6 Z M238.9 348.6 L238.73 347.43 L238.22 346.27 L237.39 345.16 L236.23 344.1 L234.79 343.12 L233.07 342.24 L231.11 341.46 L228.95 340.81 L226.62 340.29 L224.15 339.91 L221.6 339.68 L219 339.6 L216.4 339.68 L213.85 339.91 L211.38 340.29 L209.05 340.81 L206.89 341.46 L204.93 342.24 L203.21 343.12 L201.77 344.1 L200.61 345.16 L199.78 346.27 L199.27 347.43 L199.1 348.6 L199.27 349.77 L199.78 350.93 L200.61 352.04 L201.77 353.1 L203.21 354.08 L204.93 354.96 L206.89 355.74 L209.05 356.39 L211.38 356.91 L213.85 357.29 L216.4 357.52 L219 357.6 L221.6 357.52 L224.15 357.29 L226.62 356.91 L228.95 356.39 L231.11 355.74 L233.07 354.96 L234.79 354.08 L236.23 353.1 L237.39 352.04 L238.22 350.93 L238.73 349.77 L238.9 348.6 Z" fill="#fff" fill-rule="evenodd" stroke="#1c1c1c" stroke-width="1.2"/>
<path d="M241.5 327.75 L241.31 329.15 L240.73 330.53 L239.79 331.86 L238.49 333.12 L236.85 334.29 L234.91 335.35 L232.7 336.28 L230.25 337.06 L227.61 337.68 L224.82 338.13 L221.94 338.41 L219 338.5 L216.06 338.41 L213.18 338.13 L210.39 337.68 L207.75 337.06 L205.3 336.28 L203.09 335.35 L201.15 334.29 L199.51 333.12 L198.21 331.86 L197.27 330.53 L196.69 329.15 L196.5 327.75 L196.69 326.35 L197.27 324.97 L198.21 323.64 L199.51 322.38 L201.15 321.21 L203.09 320.15 L205.3 319.22 L207.75 318.44 L210.39 317.82 L213.18 317.37 L216.06 317.09 L219 317 L221.94 317.09 L224.82 317.37 L227.61 317.82 L230.25 318.44 L232.7 319.22 L234.91 320.15 L236.85 321.21 L238.49 322.38 L239.79 323.64 L240.73 324.97 L241.31 326.35 L241.5 327.75 Z M238.9 327.75 L238.73 326.61 L238.22 325.5 L237.39 324.42 L236.23 323.4 L234.79 322.45 L233.07 321.6 L231.11 320.85 L228.95 320.22 L226.62 319.71 L224.15 319.35 L221.6 319.12 L219 319.05 L216.4 319.12 L213.85 319.35 L211.38 319.71 L209.05 320.22 L206.89 320.85 L204.93 321.6 L203.21 322.45 L201.77 323.4 L200.61 324.42 L199.78 325.5 L199.27 326.61 L199.1 327.75 L199.27 328.89 L199.78 330 L200.61 331.08 L201.77 332.1 L203.21 333.05 L204.93 333.9 L206.89 334.65 L209.05 335.28 L211.38 335.79 L213.85 336.15 L216.4 336.38 L219 336.45 L221.6 336.38 L224.15 336.15 L226.62 335.79 L228.95 335.28 L231.11 334.65 L233.07 333.9 L234.79 333.05 L236.23 332.1 L237.39 331.08 L238.22 330 L238.73 328.89 L238.9 327.75 Z" fill="#fff" fill-rule="evenodd" stroke="#1c1c1c" stroke-width="1.2"/>
<path d="M196.2 295.2 L196.2 308.25 A22.5 10.5 0 0 0 241.2 308.25 L241.2 295.2 Z" fill="#fff" stroke="#1c1c1c" stroke-width="1.25" stroke-linejoin="round" stroke-linecap="round" />
<path d="M240.98 300.96 L240.7 301.7 L240.31 302.43 L239.8 303.14 L239.19 303.84 L238.47 304.51 L237.66 305.16 L236.74 305.78 L235.73 306.36 L234.64 306.91 L233.46 307.42 L232.21 307.9 L230.89 308.33 L229.51 308.71 L228.07 309.05 L226.58 309.34 L225.05 309.57 L223.49 309.76 L221.91 309.89 L220.31 309.97 L218.7 310 L217.09 309.97 L215.49 309.89 L213.91 309.76 L212.35 309.57 L210.82 309.34 L209.33 309.05 L207.89 308.71 L206.51 308.33 L205.19 307.9 L203.94 307.42 L202.76 306.91 L201.67 306.36 L200.66 305.78 L199.74 305.16 L198.93 304.51 L198.21 303.84 L197.6 303.14 L197.09 302.43 L196.7 301.7 L196.42 300.96" fill="none" stroke="#1c1c1c" stroke-width="1.25" stroke-linejoin="round" stroke-linecap="round" />
<path d="M240.98 304.46 L240.7 305.2 L240.31 305.93 L239.8 306.64 L239.19 307.34 L238.47 308.01 L237.66 308.66 L236.74 309.28 L235.73 309.86 L234.64 310.41 L233.46 310.92 L232.21 311.4 L230.89 311.83 L229.51 312.21 L228.07 312.55 L226.58 312.84 L225.05 313.07 L223.49 313.26 L221.91 313.39 L220.31 313.47 L218.7 313.5 L217.09 313.47 L215.49 313.39 L213.91 313.26 L212.35 313.07 L210.82 312.84 L209.33 312.55 L207.89 312.21 L206.51 311.83 L205.19 311.4 L203.94 310.92 L202.76 310.41 L201.67 309.86 L200.66 309.28 L199.74 308.66 L198.93 308.01 L198.21 307.34 L197.6 306.64 L197.09 305.93 L196.7 305.2 L196.42 304.46" fill="none" stroke="#1c1c1c" stroke-width="1.25" stroke-linejoin="round" stroke-linecap="round" />
<ellipse cx="218.7" cy="295.2" rx="22.5" ry="10.8" transform="rotate(0 218.7 295.2)" fill="#fff" stroke="#1c1c1c" stroke-width="1.25"/>
<path d="M200.51 299.15 L200.22 298.92 L199.95 298.69 L199.69 298.45 L199.44 298.21 L199.21 297.97 L199 297.72 L198.8 297.47 L198.62 297.22 L198.45 296.97 L198.3 296.71 L198.17 296.45 L198.05 296.19 L197.95 295.93 L197.87 295.67 L197.8 295.41 L197.75 295.15 L197.72 294.89 L197.7 294.62 L197.7 294.36 L197.72 294.09 L197.75 293.83 L197.81 293.57 L197.87 293.31 L197.96 293.05 L198.06 292.79 L198.18 292.53 L198.31 292.27 L198.46 292.01 L198.63 291.76 L198.81 291.51 L199.01 291.26 L199.23 291.02 L199.46 290.77 L199.71 290.53 L199.97 290.3 L200.24 290.06 L200.54 289.83 L200.84 289.61 L201.16 289.38 L201.5 289.17" fill="none" stroke="#1c1c1c" stroke-width="1.0" stroke-linejoin="round" stroke-linecap="round" />
<path d="M235.9 289.17 L236.24 289.38 L236.56 289.61 L236.86 289.83 L237.16 290.06 L237.43 290.3 L237.69 290.53 L237.94 290.77 L238.17 291.02 L238.39 291.26 L238.59 291.51 L238.77 291.76 L238.94 292.01 L239.09 292.27 L239.22 292.53 L239.34 292.79 L239.44 293.05 L239.53 293.31 L239.59 293.57 L239.65 293.83 L239.68 294.09 L239.7 294.36 L239.7 294.62 L239.68 294.89 L239.65 295.15 L239.6 295.41 L239.53 295.67 L239.45 295.93 L239.35 296.19 L239.23 296.45 L239.1 296.71 L238.95 296.97 L238.78 297.22 L238.6 297.47 L238.4 297.72 L238.19 297.97 L237.96 298.21 L237.71 298.45 L237.45 298.69 L237.18 298.92 L236.89 299.15" fill="none" stroke="#1c1c1c" stroke-width="1.0" stroke-linejoin="round" stroke-linecap="round" />
<path d="M208.9 286 L208.9 295.5 A9.9 3.4 0 0 0 228.75 295.5 L228.75 286 Z" fill="#fff" stroke="#1c1c1c" stroke-width="0" stroke-linejoin="round" stroke-linecap="round" />
<line x1="208.9" y1="280" x2="208.9" y2="295.5" stroke="#1c1c1c" stroke-width="1.25" stroke-linecap="round"/>
<line x1="228.75" y1="280" x2="228.75" y2="295.5" stroke="#1c1c1c" stroke-width="1.25" stroke-linecap="round"/>
<path d="M228.7 295.5 L228.67 295.77 L228.58 296.03 L228.43 296.29 L228.22 296.55 L227.95 296.8 L227.62 297.04 L227.24 297.28 L226.81 297.5 L226.33 297.71 L225.8 297.9 L225.23 298.09 L224.62 298.25 L223.97 298.4 L223.29 298.53 L222.59 298.64 L221.86 298.73 L221.11 298.81 L220.35 298.86 L219.58 298.89 L218.8 298.9 L218.02 298.89 L217.25 298.86 L216.49 298.81 L215.74 298.73 L215.01 298.64 L214.31 298.53 L213.63 298.4 L212.98 298.25 L212.37 298.09 L211.8 297.9 L211.27 297.71 L210.79 297.5 L210.36 297.28 L209.98 297.04 L209.65 296.8 L209.38 296.55 L209.17 296.29 L209.02 296.03 L208.93 295.77 L208.9 295.5" fill="none" stroke="#1c1c1c" stroke-width="1.25" stroke-linejoin="round" stroke-linecap="round" />
<path d="M182.5 380 L182.5 401.8 Q184 408 188.5 411.2 Q196 415 207.2 417 Q225 418 239.2 416.4" fill="none" stroke="#1c1c1c" stroke-width="1.25" stroke-linejoin="round" stroke-linecap="round" />
<path d="M182.7 383.8 Q188 390 195.5 393.7 Q204 398 213 399 Q223 399 230.5 396.6 Q237 394 241 390.2 Q245 387 250 386.7" fill="none" stroke="#1c1c1c" stroke-width="1.25" stroke-linejoin="round" stroke-linecap="round" />
<line x1="254.5" y1="379" x2="254.5" y2="389" stroke="#1c1c1c" stroke-width="1.25" stroke-linecap="round"/>
<line x1="250.8" y1="386" x2="250.8" y2="395" stroke="#1c1c1c" stroke-width="1.25" stroke-linecap="round"/>
<line x1="255" y1="386" x2="255" y2="395" stroke="#1c1c1c" stroke-width="1.25" stroke-linecap="round"/>
<line x1="244.2" y1="388.5" x2="244.2" y2="396" stroke="#1c1c1c" stroke-width="1.25" stroke-linecap="round"/>
<path d="M182.5 379 182.61 377.59 182.95 376.18 183.5 374.8 184.28 373.44 185.26 372.11 186.46 370.83 187.85 369.6 189.43 368.42 191.2 367.31 193.13 366.27 195.23 365.31 197.46 364.44 199.83 363.65 202.32 362.96 204.91 362.37 207.58 361.88 210.33 361.5 213.12 361.22 215.95 361.06 218.8 361 221.65 361.06 224.48 361.22 227.27 361.5 230.02 361.88 232.69 362.37 235.28 362.96 237.77 363.65 240.14 364.44 242.37 365.31 244.47 366.27 246.4 367.31 248.17 368.42 249.75 369.6 251.14 370.83 252.34 372.11 253.32 373.44 254.1 374.8 254.65 376.18 254.99 377.59 255.1 379" fill="none" stroke="#1c1c1c" stroke-width="1.25" stroke-linejoin="round" stroke-linecap="round" />
<path d="M188.12 377.26 L188 376.06 L188.09 374.86 L188.4 373.67 L188.91 372.49 L189.62 371.34 L190.53 370.22 L191.63 369.14 L192.92 368.1 L194.38 367.12 L196.01 366.2 L197.8 365.35 L199.72 364.57 L201.78 363.87 L203.95 363.26 L206.22 362.73 L208.57 362.29 L210.99 361.95 L213.47 361.7 L215.97 361.55 L218.5 361.5 L221.03 361.55 L223.53 361.7 L226.01 361.95 L228.43 362.29 L230.78 362.73 L233.05 363.26 L235.22 363.87 L237.28 364.57 L239.2 365.35 L240.99 366.2 L242.62 367.12 L244.08 368.1 L245.37 369.14 L246.47 370.22 L247.38 371.34 L248.09 372.49 L248.6 373.67 L248.91 374.86 L249 376.06 L248.88 377.26" fill="none" stroke="#1c1c1c" stroke-width="1.0" stroke-linejoin="round" stroke-linecap="round" />
<ellipse cx="218.5" cy="375.5" rx="25.5" ry="11.25" transform="rotate(0 218.5 375.5)" fill="none" stroke="#1c1c1c" stroke-width="1.25"/>
<clipPath id="bore"><ellipse cx="218.5" cy="375.5" rx="25.2" ry="11"/></clipPath>
<g clip-path="url(#bore)">
<path d="M191.5 373.3 L191.58 372.67 L191.83 372.05 L192.25 371.43 L192.82 370.83 L193.56 370.24 L194.44 369.67 L195.48 369.12 L196.66 368.6 L197.97 368.1 L199.41 367.64 L200.96 367.22 L202.63 366.83 L204.39 366.48 L206.24 366.17 L208.17 365.91 L210.16 365.69 L212.2 365.52 L214.28 365.4 L216.38 365.32 L218.5 365.3 L220.62 365.32 L222.72 365.4 L224.8 365.52 L226.84 365.69 L228.83 365.91 L230.76 366.17 L232.61 366.48 L234.37 366.83 L236.04 367.22 L237.59 367.64 L239.03 368.1 L240.34 368.6 L241.52 369.12 L242.56 369.67 L243.44 370.24 L244.18 370.83 L244.75 371.43 L245.17 372.05 L245.42 372.67 L245.5 373.3" fill="none" stroke="#1c1c1c" stroke-width="0.95" stroke-linejoin="round" stroke-linecap="round" />
<path d="M191.5 373.5 L191.58 373.03 L191.83 372.56 L192.25 372.1 L192.82 371.65 L193.56 371.2 L194.44 370.78 L195.48 370.37 L196.66 369.97 L197.97 369.6 L199.41 369.26 L200.96 368.94 L202.63 368.65 L204.39 368.38 L206.24 368.15 L208.17 367.96 L210.16 367.79 L212.2 367.67 L214.28 367.57 L216.38 367.52 L218.5 367.5 L220.62 367.52 L222.72 367.57 L224.8 367.67 L226.84 367.79 L228.83 367.96 L230.76 368.15 L232.61 368.38 L234.37 368.65 L236.04 368.94 L237.59 369.26 L239.03 369.6 L240.34 369.97 L241.52 370.37 L242.56 370.78 L243.44 371.2 L244.18 371.65 L244.75 372.1 L245.17 372.56 L245.42 373.03 L245.5 373.5" fill="none" stroke="#1c1c1c" stroke-width="0.95" stroke-linejoin="round" stroke-linecap="round" />
<path d="M191.5 373.7 L191.58 373.39 L191.83 373.07 L192.25 372.77 L192.82 372.46 L193.56 372.17 L194.44 371.88 L195.48 371.61 L196.66 371.35 L197.97 371.1 L199.41 370.87 L200.96 370.66 L202.63 370.46 L204.39 370.29 L206.24 370.14 L208.17 370 L210.16 369.9 L212.2 369.81 L214.28 369.75 L216.38 369.71 L218.5 369.7 L220.62 369.71 L222.72 369.75 L224.8 369.81 L226.84 369.9 L228.83 370 L230.76 370.14 L232.61 370.29 L234.37 370.46 L236.04 370.66 L237.59 370.87 L239.03 371.1 L240.34 371.35 L241.52 371.61 L242.56 371.88 L243.44 372.17 L244.18 372.46 L244.75 372.77 L245.17 373.07 L245.42 373.39 L245.5 373.7" fill="none" stroke="#1c1c1c" stroke-width="0.95" stroke-linejoin="round" stroke-linecap="round" />
<path d="M191.5 373.9 L191.58 373.74 L191.83 373.59 L192.25 373.43 L192.82 373.28 L193.56 373.13 L194.44 372.99 L195.48 372.86 L196.66 372.72 L197.97 372.6 L199.41 372.49 L200.96 372.38 L202.63 372.28 L204.39 372.19 L206.24 372.12 L208.17 372.05 L210.16 372 L212.2 371.96 L214.28 371.92 L216.38 371.91 L218.5 371.9 L220.62 371.91 L222.72 371.92 L224.8 371.96 L226.84 372 L228.83 372.05 L230.76 372.12 L232.61 372.19 L234.37 372.28 L236.04 372.38 L237.59 372.49 L239.03 372.6 L240.34 372.72 L241.52 372.86 L242.56 372.99 L243.44 373.13 L244.18 373.28 L244.75 373.43 L245.17 373.59 L245.42 373.74 L245.5 373.9" fill="none" stroke="#1c1c1c" stroke-width="0.95" stroke-linejoin="round" stroke-linecap="round" />
<path d="M245.5 373.2 L245.42 373.28 L245.17 373.36 L244.75 373.43 L244.18 373.51 L243.44 373.58 L242.56 373.65 L241.52 373.72 L240.34 373.79 L239.03 373.85 L237.59 373.91 L236.04 373.96 L234.37 374.01 L232.61 374.05 L230.76 374.09 L228.83 374.12 L226.84 374.15 L224.8 374.17 L222.72 374.19 L220.62 374.2 L218.5 374.2 L216.38 374.2 L214.28 374.19 L212.2 374.17 L210.16 374.15 L208.17 374.12 L206.24 374.09 L204.39 374.05 L202.63 374.01 L200.96 373.96 L199.41 373.91 L197.97 373.85 L196.66 373.79 L195.48 373.72 L194.44 373.65 L193.56 373.58 L192.82 373.51 L192.25 373.43 L191.83 373.36 L191.58 373.28 L191.5 373.2" fill="none" stroke="#1c1c1c" stroke-width="0.95" stroke-linejoin="round" stroke-linecap="round" />
<path d="M245.5 373.2 L245.42 373.44 L245.17 373.67 L244.75 373.9 L244.18 374.13 L243.44 374.35 L242.56 374.56 L241.52 374.77 L240.34 374.96 L239.03 375.15 L237.59 375.32 L236.04 375.48 L234.37 375.63 L232.61 375.76 L230.76 375.87 L228.83 375.97 L226.84 376.05 L224.8 376.12 L222.72 376.16 L220.62 376.19 L218.5 376.2 L216.38 376.19 L214.28 376.16 L212.2 376.12 L210.16 376.05 L208.17 375.97 L206.24 375.87 L204.39 375.76 L202.63 375.63 L200.96 375.48 L199.41 375.32 L197.97 375.15 L196.66 374.96 L195.48 374.77 L194.44 374.56 L193.56 374.35 L192.82 374.13 L192.25 373.9 L191.83 373.67 L191.58 373.44 L191.5 373.2" fill="none" stroke="#1c1c1c" stroke-width="0.95" stroke-linejoin="round" stroke-linecap="round" />
<path d="M245.5 373.2 L245.42 373.59 L245.17 373.98 L244.75 374.37 L244.18 374.75 L243.44 375.11 L242.56 375.47 L241.52 375.81 L240.34 376.14 L239.03 376.45 L237.59 376.74 L236.04 377 L234.37 377.25 L232.61 377.46 L230.76 377.66 L228.83 377.82 L226.84 377.96 L224.8 378.06 L222.72 378.14 L220.62 378.18 L218.5 378.2 L216.38 378.18 L214.28 378.14 L212.2 378.06 L210.16 377.96 L208.17 377.82 L206.24 377.66 L204.39 377.46 L202.63 377.25 L200.96 377 L199.41 376.74 L197.97 376.45 L196.66 376.14 L195.48 375.81 L194.44 375.47 L193.56 375.11 L192.82 374.75 L192.25 374.37 L191.83 373.98 L191.58 373.59 L191.5 373.2" fill="none" stroke="#1c1c1c" stroke-width="0.95" stroke-linejoin="round" stroke-linecap="round" />
<path d="M245.5 373.2 L245.42 373.75 L245.17 374.3 L244.75 374.83 L244.18 375.36 L243.44 375.88 L242.56 376.38 L241.52 376.86 L240.34 377.31 L239.03 377.75 L237.59 378.15 L236.04 378.52 L234.37 378.86 L232.61 379.17 L230.76 379.44 L228.83 379.67 L226.84 379.86 L224.8 380.01 L222.72 380.11 L220.62 380.18 L218.5 380.2 L216.38 380.18 L214.28 380.11 L212.2 380.01 L210.16 379.86 L208.17 379.67 L206.24 379.44 L204.39 379.17 L202.63 378.86 L200.96 378.52 L199.41 378.15 L197.97 377.75 L196.66 377.31 L195.48 376.86 L194.44 376.38 L193.56 375.88 L192.82 375.36 L192.25 374.83 L191.83 374.3 L191.58 373.75 L191.5 373.2" fill="none" stroke="#1c1c1c" stroke-width="0.95" stroke-linejoin="round" stroke-linecap="round" />
<path d="M245.5 373.3 L245.42 374.01 L245.17 374.71 L244.75 375.4 L244.18 376.08 L243.44 376.74 L242.56 377.39 L241.52 378 L240.34 378.59 L239.03 379.15 L237.59 379.66 L236.04 380.14 L234.37 380.58 L232.61 380.97 L230.76 381.32 L228.83 381.61 L226.84 381.86 L224.8 382.05 L222.72 382.19 L220.62 382.27 L218.5 382.3 L216.38 382.27 L214.28 382.19 L212.2 382.05 L210.16 381.86 L208.17 381.61 L206.24 381.32 L204.39 380.97 L202.63 380.58 L200.96 380.14 L199.41 379.66 L197.97 379.15 L196.66 378.59 L195.48 378 L194.44 377.39 L193.56 376.74 L192.82 376.08 L192.25 375.4 L191.83 374.71 L191.58 374.01 L191.5 373.3" fill="none" stroke="#1c1c1c" stroke-width="0.95" stroke-linejoin="round" stroke-linecap="round" />
</g>
<path d="M187.9 411.5 L187.9 425 M187.6 432 L187.6 482.4" fill="none" stroke="#1c1c1c" stroke-width="1.25" stroke-linejoin="round" stroke-linecap="round" />
<path d="M186.4 531 L184.2 554.2" fill="none" stroke="#1c1c1c" stroke-width="1.25" stroke-linejoin="round" stroke-linecap="round" />
<path d="M208.3 457 L208.3 565.8" fill="none" stroke="#1c1c1c" stroke-width="1.25" stroke-linejoin="round" stroke-linecap="round" />
<path d="M213.3 437.5 Q225 436 237.5 435" fill="none" stroke="#1c1c1c" stroke-width="1.25" stroke-linejoin="round" stroke-linecap="round" />
<path d="M181.7 393.3 L164.2 403.3 Q161 406 161.7 408.5 L166.7 425 Q168 429 171.7 430.5 L184.2 435" fill="none" stroke="#1c1c1c" stroke-width="1.25" stroke-linejoin="round" stroke-linecap="round" />
<path d="M165.8 407.5 L186.7 419.2" fill="none" stroke="#1c1c1c" stroke-width="1.25" stroke-linejoin="round" stroke-linecap="round" />
<path d="M172.3 431.7 L118.2 540.5" fill="none" stroke="#1c1c1c" stroke-width="1.25" stroke-linejoin="round" stroke-linecap="round" />
<path d="M183.5 432.75 L183.5 450 Q183.8 452 185 452.25 L199.25 460.5 Q202 461.5 205.25 460.9 L206.75 452 L206.75 435.75 L205.25 433.1 L205.25 431.25 Q200 431.25 194.75 429.75 Q191 427.5 190.6 424.9 L188 424.5 Q186 429 183.9 432 Z" fill="#fff" stroke="#1c1c1c" stroke-width="1.25" stroke-linejoin="round" stroke-linecap="round" />
<path d="M183.9 432 L200 439.9 L205.25 433.1 M200 440.6 L200 460.3" fill="none" stroke="#1c1c1c" stroke-width="1.25" stroke-linejoin="round" stroke-linecap="round" />
<path d="M204.5 453 Q208 446 213.3 442.5" fill="none" stroke="#1c1c1c" stroke-width="1.25" stroke-linejoin="round" stroke-linecap="round" />
<path d="M187.6 482.4 L183.5 489.8 Q183 493 186 496.4 L196.7 501.3 Q198.4 502 199.4 501 L205.6 494" fill="none" stroke="#1c1c1c" stroke-width="1.25" stroke-linejoin="round" stroke-linecap="round" />
<path d="M189.7 484 Q195 487.5 202.5 490.2 L204.3 490.8 L197.5 499.5" fill="none" stroke="#1c1c1c" stroke-width="1.1" stroke-linejoin="round" stroke-linecap="round" />
<path d="M186.4 498 L186.4 506.3 Q184 509 179.8 510.4" fill="none" stroke="#1c1c1c" stroke-width="1.25" stroke-linejoin="round" stroke-linecap="round" />
<path d="M179.8 510.4 L178.6 524.4 Q178.7 526.4 179.8 526.9 L200.8 538.4 Q202.3 538.5 202.45 537 L202.45 523.6 Q202.3 522 201.2 521.9 L181 510.3 Q180.2 510 179.8 510.4 Z" fill="#fff" stroke="#1c1c1c" stroke-width="1.25" stroke-linejoin="round" stroke-linecap="round" />
<path d="M186.8 509.6 Q193 515 203.3 519.4" fill="none" stroke="#1c1c1c" stroke-width="1.1" stroke-linejoin="round" stroke-linecap="round" />
<line x1="205" y1="525.2" x2="205.3" y2="534.3" stroke="#1c1c1c" stroke-width="1.0" stroke-linecap="round"/>
<path d="M256.7 406.7 L266.7 413.3 L256.7 417.5" fill="none" stroke="#1c1c1c" stroke-width="1.25" stroke-linejoin="round" stroke-linecap="round" />
<path d="M266.7 413.3 L273.3 438.3 L269.2 452.5 L261.7 465 L251.7 483.3 L245 490" fill="none" stroke="#1c1c1c" stroke-width="1.25" stroke-linejoin="round" stroke-linecap="round" />
<path d="M248.3 443.3 L225 456.7 Q222 460 223.3 462 L225 469.7 L240.7 488 Q243 491 245 490" fill="none" stroke="#1c1c1c" stroke-width="1.25" stroke-linejoin="round" stroke-linecap="round" />
<path d="M225 470.5 L241.7 490.8" fill="none" stroke="#1c1c1c" stroke-width="1.0" stroke-linejoin="round" stroke-linecap="round" />
<path d="M265.12 429.87 L264.9 430.19 L264.65 430.47 L264.36 430.71 L264.06 430.91 L263.73 431.07 L263.38 431.19 L263.02 431.25 L262.65 431.27 L262.29 431.25 L261.92 431.17 L261.56 431.05 L261.22 430.88 L260.89 430.67 L260.59 430.42 L260.31 430.13 L260.06 429.81 L259.85 429.46 L259.67 429.09 L259.53 428.71 L259.44 428.3 L259.38 427.9 L259.37 427.49 L259.41 427.08 L259.48 426.69 L259.6 426.31 L259.76 425.95 L259.95 425.62 L260.18 425.32 L260.44 425.05 L260.74 424.82 L261.05 424.63 L261.39 424.48 L261.74 424.38 L262.1 424.33 L262.47 424.33 L262.84 424.37 L263.2 424.47 L263.55 424.61 L263.89 424.79 L264.21 425.01" fill="none" stroke="#1c1c1c" stroke-width="1.2" stroke-linejoin="round" stroke-linecap="round" />
<path d="M260.9 428 L263.1 427.5" fill="none" stroke="#1c1c1c" stroke-width="1.0" stroke-linejoin="round" stroke-linecap="round" />
<path d="M270.12 442.57 L269.9 442.89 L269.65 443.17 L269.36 443.41 L269.06 443.61 L268.73 443.77 L268.38 443.89 L268.02 443.95 L267.65 443.97 L267.29 443.95 L266.92 443.87 L266.56 443.75 L266.22 443.58 L265.89 443.37 L265.59 443.12 L265.31 442.83 L265.06 442.51 L264.85 442.16 L264.67 441.79 L264.53 441.41 L264.44 441 L264.38 440.6 L264.37 440.19 L264.41 439.78 L264.48 439.39 L264.6 439.01 L264.76 438.65 L264.95 438.32 L265.18 438.02 L265.44 437.75 L265.74 437.52 L266.05 437.33 L266.39 437.18 L266.74 437.08 L267.1 437.03 L267.47 437.03 L267.84 437.07 L268.2 437.17 L268.55 437.31 L268.89 437.49 L269.21 437.71" fill="none" stroke="#1c1c1c" stroke-width="1.2" stroke-linejoin="round" stroke-linecap="round" />
<path d="M265.9 440.7 L268.1 440.2" fill="none" stroke="#1c1c1c" stroke-width="1.0" stroke-linejoin="round" stroke-linecap="round" />
<path d="M262.42 454.87 L262.2 455.19 L261.95 455.47 L261.66 455.71 L261.36 455.91 L261.03 456.07 L260.68 456.19 L260.32 456.25 L259.95 456.27 L259.59 456.25 L259.22 456.17 L258.86 456.05 L258.52 455.88 L258.19 455.67 L257.89 455.42 L257.61 455.13 L257.36 454.81 L257.15 454.46 L256.97 454.09 L256.83 453.71 L256.74 453.3 L256.68 452.9 L256.67 452.49 L256.71 452.08 L256.78 451.69 L256.9 451.31 L257.06 450.95 L257.25 450.62 L257.48 450.32 L257.74 450.05 L258.04 449.82 L258.35 449.63 L258.69 449.48 L259.04 449.38 L259.4 449.33 L259.77 449.33 L260.14 449.37 L260.5 449.47 L260.85 449.61 L261.19 449.79 L261.51 450.01" fill="none" stroke="#1c1c1c" stroke-width="1.2" stroke-linejoin="round" stroke-linecap="round" />
<path d="M258.2 453 L260.4 452.5" fill="none" stroke="#1c1c1c" stroke-width="1.0" stroke-linejoin="round" stroke-linecap="round" />
<path d="M232.62 464.07 L232.4 464.39 L232.15 464.67 L231.86 464.91 L231.56 465.11 L231.23 465.27 L230.88 465.39 L230.52 465.45 L230.15 465.47 L229.79 465.45 L229.42 465.37 L229.06 465.25 L228.72 465.08 L228.39 464.87 L228.09 464.62 L227.81 464.33 L227.56 464.01 L227.35 463.66 L227.17 463.29 L227.03 462.91 L226.94 462.5 L226.88 462.1 L226.87 461.69 L226.91 461.28 L226.98 460.89 L227.1 460.51 L227.26 460.15 L227.45 459.82 L227.68 459.52 L227.94 459.25 L228.24 459.02 L228.55 458.83 L228.89 458.68 L229.24 458.58 L229.6 458.53 L229.97 458.53 L230.34 458.57 L230.7 458.67 L231.05 458.81 L231.39 458.99 L231.71 459.21" fill="none" stroke="#1c1c1c" stroke-width="1.2" stroke-linejoin="round" stroke-linecap="round" />
<path d="M228.4 462.2 L230.6 461.7" fill="none" stroke="#1c1c1c" stroke-width="1.0" stroke-linejoin="round" stroke-linecap="round" />
<path d="M241.62 468.07 L241.4 468.39 L241.15 468.67 L240.86 468.91 L240.56 469.11 L240.23 469.27 L239.88 469.39 L239.52 469.45 L239.15 469.47 L238.79 469.45 L238.42 469.37 L238.06 469.25 L237.72 469.08 L237.39 468.87 L237.09 468.62 L236.81 468.33 L236.56 468.01 L236.35 467.66 L236.17 467.29 L236.03 466.91 L235.94 466.5 L235.88 466.1 L235.87 465.69 L235.91 465.28 L235.98 464.89 L236.1 464.51 L236.26 464.15 L236.45 463.82 L236.68 463.52 L236.94 463.25 L237.24 463.02 L237.55 462.83 L237.89 462.68 L238.24 462.58 L238.6 462.53 L238.97 462.53 L239.34 462.57 L239.7 462.67 L240.05 462.81 L240.39 462.99 L240.71 463.21" fill="none" stroke="#1c1c1c" stroke-width="1.2" stroke-linejoin="round" stroke-linecap="round" />
<path d="M237.4 466.2 L239.6 465.7" fill="none" stroke="#1c1c1c" stroke-width="1.0" stroke-linejoin="round" stroke-linecap="round" />
<path d="M251.92 460.77 L251.7 461.09 L251.45 461.37 L251.16 461.61 L250.86 461.81 L250.53 461.97 L250.18 462.09 L249.82 462.15 L249.45 462.17 L249.09 462.15 L248.72 462.07 L248.36 461.95 L248.02 461.78 L247.69 461.57 L247.39 461.32 L247.11 461.03 L246.86 460.71 L246.65 460.36 L246.47 459.99 L246.33 459.61 L246.24 459.2 L246.18 458.8 L246.17 458.39 L246.21 457.98 L246.28 457.59 L246.4 457.21 L246.56 456.85 L246.75 456.52 L246.98 456.22 L247.24 455.95 L247.54 455.72 L247.85 455.53 L248.19 455.38 L248.54 455.28 L248.9 455.23 L249.27 455.23 L249.64 455.27 L250 455.37 L250.35 455.51 L250.69 455.69 L251.01 455.91" fill="none" stroke="#1c1c1c" stroke-width="1.2" stroke-linejoin="round" stroke-linecap="round" />
<path d="M247.7 458.9 L249.9 458.4" fill="none" stroke="#1c1c1c" stroke-width="1.0" stroke-linejoin="round" stroke-linecap="round" />
<path d="M256.92 468.07 L256.7 468.39 L256.45 468.67 L256.16 468.91 L255.86 469.11 L255.53 469.27 L255.18 469.39 L254.82 469.45 L254.45 469.47 L254.09 469.45 L253.72 469.37 L253.36 469.25 L253.02 469.08 L252.69 468.87 L252.39 468.62 L252.11 468.33 L251.86 468.01 L251.65 467.66 L251.47 467.29 L251.33 466.91 L251.24 466.5 L251.18 466.1 L251.17 465.69 L251.21 465.28 L251.28 464.89 L251.4 464.51 L251.56 464.15 L251.75 463.82 L251.98 463.52 L252.24 463.25 L252.54 463.02 L252.85 462.83 L253.19 462.68 L253.54 462.58 L253.9 462.53 L254.27 462.53 L254.64 462.57 L255 462.67 L255.35 462.81 L255.69 462.99 L256.01 463.21" fill="none" stroke="#1c1c1c" stroke-width="1.2" stroke-linejoin="round" stroke-linecap="round" />
<path d="M252.7 466.2 L254.9 465.7" fill="none" stroke="#1c1c1c" stroke-width="1.0" stroke-linejoin="round" stroke-linecap="round" />
<path d="M250.12 485.87 L249.9 486.19 L249.65 486.47 L249.36 486.71 L249.06 486.91 L248.73 487.07 L248.38 487.19 L248.02 487.25 L247.65 487.27 L247.29 487.25 L246.92 487.17 L246.56 487.05 L246.22 486.88 L245.89 486.67 L245.59 486.42 L245.31 486.13 L245.06 485.81 L244.85 485.46 L244.67 485.09 L244.53 484.71 L244.44 484.3 L244.38 483.9 L244.37 483.49 L244.41 483.08 L244.48 482.69 L244.6 482.31 L244.76 481.95 L244.95 481.62 L245.18 481.32 L245.44 481.05 L245.74 480.82 L246.05 480.63 L246.39 480.48 L246.74 480.38 L247.1 480.33 L247.47 480.33 L247.84 480.37 L248.2 480.47 L248.55 480.61 L248.89 480.79 L249.21 481.01" fill="none" stroke="#1c1c1c" stroke-width="1.2" stroke-linejoin="round" stroke-linecap="round" />
<path d="M245.9 484 L248.1 483.5" fill="none" stroke="#1c1c1c" stroke-width="1.0" stroke-linejoin="round" stroke-linecap="round" />
<path d="M239.2 399.7 L239.2 435 Q248 441 256.7 436.7 L256.7 399.7 Z" fill="#fff" stroke="#1c1c1c" stroke-width="1.25" stroke-linejoin="round" stroke-linecap="round" />
<ellipse cx="247.9" cy="399.7" rx="8.75" ry="3.75" transform="rotate(0 247.9 399.7)" fill="#fff" stroke="#1c1c1c" stroke-width="1.25"/>
<ellipse cx="249.2" cy="398.8" rx="2.5" ry="1.3" transform="rotate(0 249.2 398.8)" fill="none" stroke="#1c1c1c" stroke-width="1.25"/>
<path d="M269.2 452.5 L276 453.5" fill="none" stroke="#1c1c1c" stroke-width="1.25" stroke-linejoin="round" stroke-linecap="round" />
<path d="M271.15 456.28 271.51 455.71 272.01 455.21 272.65 454.78 273.43 454.44 274.33 454.17 275.36 453.99 276.51 453.89 277.76 453.88 279.12 453.95 280.56 454.11 282.09 454.35 283.69 454.67 285.34 455.07 287.04 455.55 288.77 456.1 290.53 456.72 292.3 457.41 294.07 458.15 295.82 458.95 297.54 459.81 299.23 460.7 300.86 461.63 302.43 462.59 303.93 463.58 305.35 464.58 306.67 465.59 307.89 466.61 309 467.62 309.99 468.62 310.85 469.6 311.58 470.56 312.17 471.48 312.63 472.37 312.93 473.21 313.09 474 313.1 474.73 312.97 475.41 312.69 476.02 312.26 476.55 311.69 477.02" fill="none" stroke="#1c1c1c" stroke-width="1.25" stroke-linejoin="round" stroke-linecap="round" />
<ellipse cx="292" cy="466.5" rx="20.5" ry="5.8" transform="rotate(25 292 466.5)" fill="none" stroke="#1c1c1c" stroke-width="1.25"/>
<path d="M313 477.5 L306.7 490" fill="none" stroke="#1c1c1c" stroke-width="1.25" stroke-linejoin="round" stroke-linecap="round" />
<path d="M253.5 486.75 Q256 488 259.5 489 Q268 493 277.5 498 Q285 502 292.5 504 L297 504.5" fill="none" stroke="#1c1c1c" stroke-width="1.25" stroke-linejoin="round" stroke-linecap="round" />
<path d="M246.7 491.7 L199.2 585" fill="none" stroke="#1c1c1c" stroke-width="1.25" stroke-linejoin="round" stroke-linecap="round" />
<path d="M297.5 506 L278.3 545" fill="none" stroke="#1c1c1c" stroke-width="1.25" stroke-linejoin="round" stroke-linecap="round" />
<ellipse cx="300" cy="497.25" rx="6.75" ry="8.25" transform="rotate(20 300 497.25)" fill="#fff" stroke="#1c1c1c" stroke-width="1.25"/>
<ellipse cx="300.6" cy="497.5" rx="4.2" ry="5" transform="rotate(20 300.6 497.5)" fill="none" stroke="#1c1c1c" stroke-width="1.25"/>
<path d="M302 499.58 L301.81 499.69 L301.62 499.78 L301.42 499.85 L301.21 499.89 L301 499.9 L300.79 499.89 L300.58 499.85 L300.38 499.78 L300.19 499.69 L300 499.58 L299.82 499.44 L299.66 499.28 L299.51 499.11 L299.38 498.91 L299.27 498.7 L299.17 498.48 L299.1 498.24 L299.04 498 L299.01 497.75 L299 497.5 L299.01 497.25 L299.04 497 L299.1 496.76 L299.17 496.52 L299.27 496.3 L299.38 496.09 L299.51 495.89 L299.66 495.72 L299.82 495.56 L300 495.42 L300.19 495.31 L300.38 495.22 L300.58 495.15 L300.79 495.11 L301 495.1 L301.21 495.11 L301.42 495.15 L301.62 495.22 L301.81 495.31 L302 495.42" fill="none" stroke="#1c1c1c" stroke-width="1.0" stroke-linejoin="round" stroke-linecap="round" />
<path d="M265 545 L232.5 608 M278.3 545 L260 587" fill="none" stroke="#1c1c1c" stroke-width="1.25" stroke-linejoin="round" stroke-linecap="round" />
<ellipse cx="271.7" cy="545" rx="6.7" ry="1.9" transform="rotate(8 271.7 545)" fill="none" stroke="#1c1c1c" stroke-width="1.25"/>
<path d="M118.3 540 Q122 536 127 536.7 Q136 538 140.8 548.3 Q143 552 143.3 555.8" fill="none" stroke="#1c1c1c" stroke-width="1.25" stroke-linejoin="round" stroke-linecap="round" />
<path d="M118.6 540 Q116.5 542.5 119.2 543.8 L140.8 555.8 Q145 558 150 558.5 L163.3 560.8 Q166 563 167.5 569.2 L198.8 587.2" fill="none" stroke="#1c1c1c" stroke-width="1.25" stroke-linejoin="round" stroke-linecap="round" />
<path d="M225.6 603.2 L232 608 Q238 610 243 611 Q244.2 612.5 244.5 614 Q245.3 615.5 245.5 617" fill="none" stroke="#1c1c1c" stroke-width="1.25" stroke-linejoin="round" stroke-linecap="round" />
<path d="M131.7 553.3 Q130 558 130.8 561.7 Q131.5 566 134.5 569 L160 583.3" fill="none" stroke="#1c1c1c" stroke-width="1.25" stroke-linejoin="round" stroke-linecap="round" />
<path d="M155 570.8 Q160 572.5 163.3 578.3 Q164.5 582 164.2 583.3 Q165 586 166.5 587.5 L195 603.3 Q201 606 205 608.3 Q208 602 210.5 601.7 Q214 603 216.7 610 Q218 614 219.2 616.7 L251.7 636.7" fill="none" stroke="#1c1c1c" stroke-width="1.25" stroke-linejoin="round" stroke-linecap="round" />
<path d="M167.5 559.2 Q170 553 175.8 551.7 Q178.5 553 179.2 555.8 Q181 562 183 565 Q186 568.5 190 569.5 L201.7 573.3" fill="none" stroke="#1c1c1c" stroke-width="1.25" stroke-linejoin="round" stroke-linecap="round" />
<path d="M199.2 585 Q203 581.5 208 581.7 Q216 583 221.7 590 Q225 595 225.8 603.3" fill="none" stroke="#1c1c1c" stroke-width="1.25" stroke-linejoin="round" stroke-linecap="round" />
<path d="M259 588 L276.8 596.5 Q277.6 612 275.5 620 Q272.5 627.5 268 629.5 L252 637.5" fill="none" stroke="#1c1c1c" stroke-width="1.25" stroke-linejoin="round" stroke-linecap="round" />
<path d="M258 591.5 L274.5 599" fill="none" stroke="#1c1c1c" stroke-width="1.05" stroke-linejoin="round" stroke-linecap="round" />
<path d="M258 591.5 Q256.3 596 258.3 600.5 Q259.5 603.5 261 603.3 Q266 601 274.5 599" fill="none" stroke="#1c1c1c" stroke-width="1.25" stroke-linejoin="round" stroke-linecap="round" />
<path d="M245.5 617 Q246.5 622 248 627 Q249.5 633 252 637.5" fill="none" stroke="#1c1c1c" stroke-width="1.25" stroke-linejoin="round" stroke-linecap="round" />
<path d="M263.82 626.97 L262.93 627.22 L262.05 627.36 L261.18 627.39 L260.34 627.32 L259.54 627.14 L258.77 626.86 L258.06 626.48 L257.4 626 L256.81 625.43 L256.3 624.77 L255.86 624.03 L255.5 623.23 L255.23 622.36 L255.05 621.44 L254.96 620.48 L254.96 619.49 L255.05 618.47 L255.23 617.45 L255.51 616.42 L255.87 615.41 L256.31 614.42 L256.83 613.46 L257.42 612.54 L258.08 611.68 L258.79 610.88 L259.56 610.16 L260.37 609.51 L261.21 608.95 L262.07 608.48 L262.96 608.11 L263.84 607.83 L264.73 607.67 L265.6 607.61 L266.45 607.65 L267.26 607.8 L268.04 608.06 L268.77 608.42 L269.44 608.87 L270.04 609.42 L270.58 610.06" fill="none" stroke="#1c1c1c" stroke-width="1.25" stroke-linejoin="round" stroke-linecap="round" />
<path d="M252.3 610.39 L252.17 610.46 L252.03 610.52 L251.89 610.57 L251.75 610.59 L251.6 610.6 L251.45 610.59 L251.31 610.57 L251.17 610.52 L251.03 610.46 L250.9 610.39 L250.78 610.29 L250.66 610.19 L250.56 610.07 L250.47 609.94 L250.39 609.8 L250.32 609.65 L250.27 609.49 L250.23 609.33 L250.21 609.17 L250.2 609 L250.21 608.83 L250.23 608.67 L250.27 608.51 L250.32 608.35 L250.39 608.2 L250.47 608.06 L250.56 607.93 L250.66 607.81 L250.78 607.71 L250.9 607.61 L251.03 607.54 L251.17 607.48 L251.31 607.43 L251.45 607.41 L251.6 607.4 L251.75 607.41 L251.89 607.43 L252.03 607.48 L252.17 607.54 L252.3 607.61" fill="none" stroke="#1c1c1c" stroke-width="1.1" stroke-linejoin="round" stroke-linecap="round" />
<ellipse cx="299.5" cy="452.5" rx="20" ry="6.5" transform="rotate(27 299.5 452.5)" fill="none" stroke="#1c1c1c" stroke-width="1.25"/>
<ellipse cx="299.5" cy="452.5" rx="18.2" ry="5" transform="rotate(27 299.5 452.5)" fill="none" stroke="#1c1c1c" stroke-width="1.25"/>
<path d="M439 146.3 Q449 149.5 458 155.5 L460.2 159.3 L453.2 170.8 L449.3 169.8 Q441 166.5 434.3 162.3 L432.2 158.7 L437.8 147.8 Z" fill="#fff" stroke="#1c1c1c" stroke-width="1.25" stroke-linejoin="round" stroke-linecap="round" />
<path d="M438 148.3 L441.7 152 Q448 155.5 454.7 158 L459.8 159.6" fill="none" stroke="#1c1c1c" stroke-width="1.25" stroke-linejoin="round" stroke-linecap="round" />
<path d="M441.7 152 L435.5 161.6 M454.7 158 L449.3 169.6" fill="none" stroke="#1c1c1c" stroke-width="1.25" stroke-linejoin="round" stroke-linecap="round" />
<path d="M442.5 150 Q449 152.5 454.5 155.7" fill="none" stroke="#1c1c1c" stroke-width="1.0" stroke-linejoin="round" stroke-linecap="round" />
<path d="M448.39 188.72 L447.9 189.28 L447.1 189.66 L446 189.85 L444.64 189.84 L443.05 189.65 L441.26 189.27 L439.33 188.7 L437.29 187.97 L435.2 187.1 L433.11 186.1 L431.07 185 L429.14 183.82 L427.35 182.6 L425.76 181.37 L424.4 180.15 L423.3 178.97 L422.5 177.87 L422.01 176.88 L421.85 176 L422.01 175.28 L422.5 174.72 L423.3 174.34 L424.4 174.15 L425.76 174.16 L427.35 174.35 L429.14 174.73 L431.07 175.3 L433.11 176.03 L435.2 176.9 L437.29 177.9 L439.33 179 L441.26 180.18 L443.05 181.4 L444.64 182.63 L446 183.85 L447.1 185.03 L447.9 186.13 L448.39 187.12 L448.55 188 L448.39 188.72 Z" fill="#fff" stroke="#1c1c1c" stroke-width="1.25" stroke-linejoin="round" stroke-linecap="round" />
<path d="M448.03 187.96 L448.13 188.14 L448.22 188.32 L448.3 188.5 L448.37 188.67 L448.43 188.84 L448.47 189 L448.51 189.16 L448.53 189.32 L448.55 189.47 L448.55 189.62 L448.54 189.76 L448.53 189.9 L448.5 190.03 L448.46 190.15 L448.41 190.27 L448.35 190.39 L448.28 190.5 L448.2 190.6 L448.1 190.7 L448 190.8 L447.89 190.88 L447.77 190.97 L447.63 191.04 L447.49 191.11 L447.34 191.17 L447.17 191.23 L447 191.28 L446.82 191.33 L446.63 191.37 L446.43 191.4 L446.22 191.43 L446 191.45 L445.77 191.46 L445.54 191.47 L445.3 191.47 L445.04 191.47 L444.78 191.45 L444.52 191.44 L444.24 191.41 L443.96 191.38" fill="none" stroke="#1c1c1c" stroke-width="1.25" stroke-linejoin="round" stroke-linecap="round" />
<ellipse cx="436.3" cy="180.8" rx="5.4" ry="1.6" transform="rotate(27 436.3 180.8)" fill="none" stroke="#1c1c1c" stroke-width="1.25"/>
<path d="M423.4 175.5 L425.5 177.5" fill="none" stroke="#1c1c1c" stroke-width="1.0" stroke-linejoin="round" stroke-linecap="round" />
<path d="M390.3 212.2 L410.3 216 L422.8 220.9 L435.8 227.9 L436.4 231 L430.9 237.7 L388.1 221.4 L386.8 218 L390.3 212.2 Z" fill="#fff" stroke="#1c1c1c" stroke-width="1.25" stroke-linejoin="round" stroke-linecap="round" />
<path d="M389.5 214.6 L406.5 224.1 M411.4 225.2 L434.2 231.2 M407.6 224.7 L408.2 229" fill="none" stroke="#1c1c1c" stroke-width="1.1" stroke-linejoin="round" stroke-linecap="round" />
<path d="M410.9 218.7 L419.5 198.7 L431 203.8 L421.2 223" fill="#fff" stroke="#1c1c1c" stroke-width="1.25" stroke-linejoin="round" stroke-linecap="round" />
<path d="M410.9 218.7 Q413 222.5 416 222.7 Q419 223.5 421.2 223" fill="none" stroke="#1c1c1c" stroke-width="1.25" stroke-linejoin="round" stroke-linecap="round" />
<ellipse cx="425.2" cy="200.8" rx="6.4" ry="3.3" transform="rotate(25 425.2 200.8)" fill="#fff" stroke="#1c1c1c" stroke-width="1.25"/>
<path d="M430.06 206.1 L429.88 206.2 L429.69 206.28 L429.47 206.35 L429.24 206.41 L428.99 206.45 L428.72 206.48 L428.43 206.49 L428.13 206.49 L427.82 206.47 L427.49 206.44 L427.16 206.39 L426.81 206.33 L426.46 206.25 L426.1 206.16 L425.74 206.06 L425.37 205.94 L425 205.81 L424.63 205.67 L424.27 205.52 L423.9 205.36 L423.54 205.18 L423.19 205 L422.84 204.81 L422.51 204.61 L422.18 204.4 L421.87 204.19 L421.57 203.97 L421.28 203.75 L421.01 203.53 L420.76 203.3 L420.53 203.07 L420.31 202.84 L420.12 202.62 L419.95 202.39 L419.79 202.17 L419.66 201.95 L419.56 201.73 L419.47 201.52 L419.41 201.32 L419.38 201.12" fill="none" stroke="#1c1c1c" stroke-width="0.9" stroke-linejoin="round" stroke-linecap="round" />
<path d="M429.16 208.4 L428.98 208.5 L428.79 208.58 L428.57 208.65 L428.34 208.71 L428.09 208.75 L427.82 208.78 L427.53 208.79 L427.23 208.79 L426.92 208.77 L426.59 208.74 L426.26 208.69 L425.91 208.63 L425.56 208.55 L425.2 208.46 L424.84 208.36 L424.47 208.24 L424.1 208.11 L423.73 207.97 L423.37 207.82 L423 207.66 L422.64 207.48 L422.29 207.3 L421.94 207.11 L421.61 206.91 L421.28 206.7 L420.97 206.49 L420.67 206.27 L420.38 206.05 L420.11 205.83 L419.86 205.6 L419.63 205.37 L419.41 205.14 L419.22 204.92 L419.05 204.69 L418.89 204.47 L418.76 204.25 L418.66 204.03 L418.57 203.82 L418.51 203.62 L418.48 203.42" fill="none" stroke="#1c1c1c" stroke-width="0.9" stroke-linejoin="round" stroke-linecap="round" />
<path d="M428.26 210.7 L428.08 210.8 L427.89 210.88 L427.67 210.95 L427.44 211.01 L427.19 211.05 L426.92 211.08 L426.63 211.09 L426.33 211.09 L426.02 211.07 L425.69 211.04 L425.36 210.99 L425.01 210.93 L424.66 210.85 L424.3 210.76 L423.94 210.66 L423.57 210.54 L423.2 210.41 L422.83 210.27 L422.47 210.12 L422.1 209.96 L421.74 209.78 L421.39 209.6 L421.04 209.41 L420.71 209.21 L420.38 209 L420.07 208.79 L419.77 208.57 L419.48 208.35 L419.21 208.13 L418.96 207.9 L418.73 207.67 L418.51 207.44 L418.32 207.22 L418.15 206.99 L417.99 206.77 L417.86 206.55 L417.76 206.33 L417.67 206.12 L417.61 205.92 L417.58 205.72" fill="none" stroke="#1c1c1c" stroke-width="0.9" stroke-linejoin="round" stroke-linecap="round" />
<path d="M427.36 213 L427.18 213.1 L426.99 213.18 L426.77 213.25 L426.54 213.31 L426.29 213.35 L426.02 213.38 L425.73 213.39 L425.43 213.39 L425.12 213.37 L424.79 213.34 L424.46 213.29 L424.11 213.23 L423.76 213.15 L423.4 213.06 L423.04 212.96 L422.67 212.84 L422.3 212.71 L421.93 212.57 L421.57 212.42 L421.2 212.26 L420.84 212.08 L420.49 211.9 L420.14 211.71 L419.81 211.51 L419.48 211.3 L419.17 211.09 L418.87 210.87 L418.58 210.65 L418.31 210.43 L418.06 210.2 L417.83 209.97 L417.61 209.74 L417.42 209.52 L417.25 209.29 L417.09 209.07 L416.96 208.85 L416.86 208.63 L416.77 208.42 L416.71 208.22 L416.68 208.02" fill="none" stroke="#1c1c1c" stroke-width="0.9" stroke-linejoin="round" stroke-linecap="round" />
<path d="M426.46 215.3 L426.28 215.4 L426.09 215.48 L425.87 215.55 L425.64 215.61 L425.39 215.65 L425.12 215.68 L424.83 215.69 L424.53 215.69 L424.22 215.67 L423.89 215.64 L423.56 215.59 L423.21 215.53 L422.86 215.45 L422.5 215.36 L422.14 215.26 L421.77 215.14 L421.4 215.01 L421.03 214.87 L420.67 214.72 L420.3 214.56 L419.94 214.38 L419.59 214.2 L419.24 214.01 L418.91 213.81 L418.58 213.6 L418.27 213.39 L417.97 213.17 L417.68 212.95 L417.41 212.73 L417.16 212.5 L416.93 212.27 L416.71 212.04 L416.52 211.82 L416.35 211.59 L416.19 211.37 L416.06 211.15 L415.96 210.93 L415.87 210.72 L415.81 210.52 L415.78 210.32" fill="none" stroke="#1c1c1c" stroke-width="0.9" stroke-linejoin="round" stroke-linecap="round" />
<path d="M378 250 L372 261.5 M415.5 267.5 L412 279.5" fill="none" stroke="#1c1c1c" stroke-width="1.25" stroke-linejoin="round" stroke-linecap="round" />
<path d="M414.91 259.35 L414.71 259.98 L414.39 260.57 L413.95 261.09 L413.39 261.56 L412.72 261.96 L411.94 262.29 L411.06 262.55 L410.07 262.75 L408.99 262.87 L407.83 262.92 L406.59 262.9 L405.27 262.8 L403.9 262.63 L402.47 262.4 L401 262.09 L399.49 261.71 L397.96 261.27 L396.41 260.77 L394.85 260.21 L393.3 259.59 L391.76 258.92 L390.25 258.2 L388.77 257.45 L387.34 256.65 L385.95 255.82 L384.63 254.96 L383.37 254.08 L382.2 253.19 L381.1 252.28 L380.1 251.37 L379.2 250.46 L378.4 249.56 L377.71 248.66 L377.13 247.79 L376.68 246.94 L376.34 246.12 L376.12 245.33 L376.02 244.59 L376.06 243.88 L376.21 243.23" fill="none" stroke="#1c1c1c" stroke-width="0.85" stroke-linejoin="round" stroke-linecap="round" />
<path d="M414.46 261.75 L414.26 262.38 L413.94 262.97 L413.5 263.49 L412.94 263.96 L412.27 264.36 L411.49 264.69 L410.61 264.95 L409.62 265.15 L408.54 265.27 L407.38 265.32 L406.14 265.3 L404.82 265.2 L403.45 265.03 L402.02 264.8 L400.55 264.49 L399.04 264.11 L397.51 263.67 L395.96 263.17 L394.4 262.61 L392.85 261.99 L391.31 261.32 L389.8 260.6 L388.32 259.85 L386.89 259.05 L385.5 258.22 L384.18 257.36 L382.92 256.48 L381.75 255.59 L380.65 254.68 L379.65 253.77 L378.75 252.86 L377.95 251.96 L377.26 251.06 L376.68 250.19 L376.23 249.34 L375.89 248.52 L375.67 247.73 L375.57 246.99 L375.61 246.28 L375.76 245.63" fill="none" stroke="#1c1c1c" stroke-width="0.85" stroke-linejoin="round" stroke-linecap="round" />
<path d="M414.01 264.15 L413.81 264.78 L413.49 265.37 L413.05 265.89 L412.49 266.36 L411.82 266.76 L411.04 267.09 L410.16 267.35 L409.17 267.55 L408.09 267.67 L406.93 267.72 L405.69 267.7 L404.37 267.6 L403 267.43 L401.57 267.2 L400.1 266.89 L398.59 266.51 L397.06 266.07 L395.51 265.57 L393.95 265.01 L392.4 264.39 L390.86 263.72 L389.35 263 L387.87 262.25 L386.44 261.45 L385.05 260.62 L383.73 259.76 L382.47 258.88 L381.3 257.99 L380.2 257.08 L379.2 256.17 L378.3 255.26 L377.5 254.36 L376.81 253.46 L376.23 252.59 L375.78 251.74 L375.44 250.92 L375.22 250.13 L375.12 249.39 L375.16 248.68 L375.31 248.03" fill="none" stroke="#1c1c1c" stroke-width="0.85" stroke-linejoin="round" stroke-linecap="round" />
<path d="M413.56 266.55 L413.36 267.18 L413.04 267.77 L412.6 268.29 L412.04 268.76 L411.37 269.16 L410.59 269.49 L409.71 269.75 L408.72 269.95 L407.64 270.07 L406.48 270.12 L405.24 270.1 L403.92 270 L402.55 269.83 L401.12 269.6 L399.65 269.29 L398.14 268.91 L396.61 268.47 L395.06 267.97 L393.5 267.41 L391.95 266.79 L390.41 266.12 L388.9 265.4 L387.42 264.65 L385.99 263.85 L384.6 263.02 L383.28 262.16 L382.02 261.28 L380.85 260.39 L379.75 259.48 L378.75 258.57 L377.85 257.66 L377.05 256.76 L376.36 255.86 L375.78 254.99 L375.33 254.14 L374.99 253.32 L374.77 252.53 L374.67 251.79 L374.71 251.08 L374.86 250.43" fill="none" stroke="#1c1c1c" stroke-width="0.85" stroke-linejoin="round" stroke-linecap="round" />
<path d="M413.11 268.95 L412.91 269.58 L412.59 270.17 L412.15 270.69 L411.59 271.16 L410.92 271.56 L410.14 271.89 L409.26 272.15 L408.27 272.35 L407.19 272.47 L406.03 272.52 L404.79 272.5 L403.47 272.4 L402.1 272.23 L400.67 272 L399.2 271.69 L397.69 271.31 L396.16 270.87 L394.61 270.37 L393.05 269.81 L391.5 269.19 L389.96 268.52 L388.45 267.8 L386.97 267.05 L385.54 266.25 L384.15 265.42 L382.83 264.56 L381.57 263.68 L380.4 262.79 L379.3 261.88 L378.3 260.97 L377.4 260.06 L376.6 259.16 L375.91 258.26 L375.33 257.39 L374.88 256.54 L374.54 255.72 L374.32 254.93 L374.22 254.19 L374.26 253.48 L374.41 252.83" fill="none" stroke="#1c1c1c" stroke-width="0.85" stroke-linejoin="round" stroke-linecap="round" />
<path d="M412.66 271.35 L412.46 271.98 L412.14 272.57 L411.7 273.09 L411.14 273.56 L410.47 273.96 L409.69 274.29 L408.81 274.55 L407.82 274.75 L406.74 274.87 L405.58 274.92 L404.34 274.9 L403.02 274.8 L401.65 274.63 L400.22 274.4 L398.75 274.09 L397.24 273.71 L395.71 273.27 L394.16 272.77 L392.6 272.21 L391.05 271.59 L389.51 270.92 L388 270.2 L386.52 269.45 L385.09 268.65 L383.7 267.82 L382.38 266.96 L381.12 266.08 L379.95 265.19 L378.85 264.28 L377.85 263.37 L376.95 262.46 L376.15 261.56 L375.46 260.66 L374.88 259.79 L374.43 258.94 L374.09 258.12 L373.87 257.33 L373.77 256.59 L373.81 255.88 L373.96 255.23" fill="none" stroke="#1c1c1c" stroke-width="0.85" stroke-linejoin="round" stroke-linecap="round" />
<path d="M412.21 273.75 L412.01 274.38 L411.69 274.97 L411.25 275.49 L410.69 275.96 L410.02 276.36 L409.24 276.69 L408.36 276.95 L407.37 277.15 L406.29 277.27 L405.13 277.32 L403.89 277.3 L402.57 277.2 L401.2 277.03 L399.77 276.8 L398.3 276.49 L396.79 276.11 L395.26 275.67 L393.71 275.17 L392.15 274.61 L390.6 273.99 L389.06 273.32 L387.55 272.6 L386.07 271.85 L384.64 271.05 L383.25 270.22 L381.93 269.36 L380.67 268.48 L379.5 267.59 L378.4 266.68 L377.4 265.77 L376.5 264.86 L375.7 263.96 L375.01 263.06 L374.43 262.19 L373.98 261.34 L373.64 260.52 L373.42 259.73 L373.32 258.99 L373.36 258.28 L373.51 257.63" fill="none" stroke="#1c1c1c" stroke-width="0.85" stroke-linejoin="round" stroke-linecap="round" />
<path d="M411.76 276.15 L411.56 276.78 L411.24 277.37 L410.8 277.89 L410.24 278.36 L409.57 278.76 L408.79 279.09 L407.91 279.35 L406.92 279.55 L405.84 279.67 L404.68 279.72 L403.44 279.7 L402.12 279.6 L400.75 279.43 L399.32 279.2 L397.85 278.89 L396.34 278.51 L394.81 278.07 L393.26 277.57 L391.7 277.01 L390.15 276.39 L388.61 275.72 L387.1 275 L385.62 274.25 L384.19 273.45 L382.8 272.62 L381.48 271.76 L380.22 270.88 L379.05 269.99 L377.95 269.08 L376.95 268.17 L376.05 267.26 L375.25 266.36 L374.56 265.46 L373.98 264.59 L373.53 263.74 L373.19 262.92 L372.97 262.13 L372.87 261.39 L372.91 260.68 L373.06 260.03" fill="none" stroke="#1c1c1c" stroke-width="0.85" stroke-linejoin="round" stroke-linecap="round" />
<path d="M411.31 278.55 L411.11 279.18 L410.79 279.77 L410.35 280.29 L409.79 280.76 L409.12 281.16 L408.34 281.49 L407.46 281.75 L406.47 281.95 L405.39 282.07 L404.23 282.12 L402.99 282.1 L401.67 282 L400.3 281.83 L398.87 281.6 L397.4 281.29 L395.89 280.91 L394.36 280.47 L392.81 279.97 L391.25 279.41 L389.7 278.79 L388.16 278.12 L386.65 277.4 L385.17 276.65 L383.74 275.85 L382.35 275.02 L381.03 274.16 L379.77 273.28 L378.6 272.39 L377.5 271.48 L376.5 270.57 L375.6 269.66 L374.8 268.76 L374.11 267.86 L373.53 266.99 L373.08 266.14 L372.74 265.32 L372.52 264.53 L372.42 263.79 L372.46 263.08 L372.61 262.43" fill="none" stroke="#1c1c1c" stroke-width="0.85" stroke-linejoin="round" stroke-linecap="round" />
<path d="M410.86 280.95 L410.66 281.58 L410.34 282.17 L409.9 282.69 L409.34 283.16 L408.67 283.56 L407.89 283.89 L407.01 284.15 L406.02 284.35 L404.94 284.47 L403.78 284.52 L402.54 284.5 L401.22 284.4 L399.85 284.23 L398.42 284 L396.95 283.69 L395.44 283.31 L393.91 282.87 L392.36 282.37 L390.8 281.81 L389.25 281.19 L387.71 280.52 L386.2 279.8 L384.72 279.05 L383.29 278.25 L381.9 277.42 L380.58 276.56 L379.32 275.68 L378.15 274.79 L377.05 273.88 L376.05 272.97 L375.15 272.06 L374.35 271.16 L373.66 270.26 L373.08 269.39 L372.63 268.54 L372.29 267.72 L372.07 266.93 L371.97 266.19 L372.01 265.48 L372.16 264.83" fill="none" stroke="#1c1c1c" stroke-width="0.85" stroke-linejoin="round" stroke-linecap="round" />
<path d="M423.22 259.68 L422.39 260.91 L421.03 261.89 L419.16 262.59 L416.83 262.99 L414.1 263.09 L411.03 262.87 L407.71 262.35 L404.21 261.54 L400.61 260.45 L397.02 259.12 L393.51 257.58 L390.17 255.86 L387.08 254.02 L384.33 252.08 L381.97 250.11 L380.07 248.14 L378.68 246.24 L377.82 244.44 L377.52 242.78 L377.78 241.32 L378.61 240.09 L379.97 239.11 L381.84 238.41 L384.17 238.01 L386.9 237.91 L389.97 238.13 L393.29 238.65 L396.79 239.46 L400.39 240.55 L403.98 241.88 L407.49 243.42 L410.83 245.14 L413.92 246.98 L416.67 248.92 L419.03 250.89 L420.93 252.86 L422.32 254.76 L423.18 256.56 L423.48 258.22 L423.22 259.68 Z" fill="#fff" stroke="#1c1c1c" stroke-width="1.25" stroke-linejoin="round" stroke-linecap="round" />
<path d="M423.34 259.93 L423.48 260.83 L423.44 261.67 L423.23 262.44 L422.85 263.15 L422.31 263.79 L421.61 264.35 L420.75 264.83 L419.75 265.22 L418.6 265.52 L417.32 265.74 L415.91 265.86 L414.39 265.89 L412.77 265.83 L411.05 265.67 L409.26 265.43 L407.4 265.09 L405.5 264.67 L403.55 264.16 L401.58 263.57 L399.61 262.91 L397.64 262.17 L395.69 261.37 L393.78 260.51 L391.92 259.6 L390.12 258.64 L388.4 257.64 L386.77 256.61 L385.24 255.55 L383.82 254.48 L382.52 253.4 L381.36 252.32 L380.34 251.25 L379.47 250.19 L378.75 249.15 L378.19 248.15 L377.8 247.18 L377.58 246.26 L377.52 245.39 L377.64 244.57 L377.92 243.83" fill="none" stroke="#1c1c1c" stroke-width="1.25" stroke-linejoin="round" stroke-linecap="round" />
<path d="M391.71 246.66 L391.65 246.23 L391.68 245.83 L391.81 245.47 L392.02 245.14 L392.32 244.86 L392.7 244.61 L393.17 244.41 L393.71 244.26 L394.33 244.16 L395.01 244.1 L395.75 244.1 L396.54 244.14 L397.38 244.24 L398.25 244.38 L399.16 244.57 L400.09 244.8 L401.03 245.08 L401.97 245.4 L402.91 245.76 L403.84 246.15 L404.75 246.57 L405.62 247.02 L406.46 247.49 L407.25 247.98 L407.99 248.49 L408.67 249 L409.29 249.52 L409.83 250.04 L410.3 250.55 L410.68 251.05 L410.98 251.54 L411.19 252.01 L411.32 252.46 L411.35 252.88 L411.29 253.27 L411.14 253.62 L410.91 253.94 L410.58 254.21 L410.18 254.45 L409.69 254.63" fill="none" stroke="#1c1c1c" stroke-width="1.0" stroke-linejoin="round" stroke-linecap="round" />
<ellipse cx="384.5" cy="284.75" rx="22.8" ry="7.5" transform="rotate(25 384.5 284.75)" fill="none" stroke="#1c1c1c" stroke-width="1.25"/>
<ellipse cx="384.5" cy="284.75" rx="21" ry="6" transform="rotate(25 384.5 284.75)" fill="none" stroke="#1c1c1c" stroke-width="1.25"/>
<path d="M334.46 434 L334.21 434.4 L333.84 434.75 L333.35 435.03 L332.74 435.25 L332.02 435.42 L331.19 435.52 L330.25 435.55 L329.21 435.52 L328.09 435.43 L326.88 435.27 L325.59 435.06 L324.23 434.78 L322.81 434.44 L321.34 434.05 L319.82 433.6 L318.27 433.1 L316.7 432.55 L315.11 431.95 L313.51 431.32 L311.92 430.64 L310.35 429.94 L308.8 429.2 L307.28 428.44 L305.81 427.66 L304.39 426.86 L303.03 426.05 L301.74 425.24 L300.53 424.43 L299.4 423.62 L298.36 422.82 L297.43 422.04 L296.59 421.28 L295.87 420.54 L295.26 419.83 L294.76 419.15 L294.39 418.51 L294.14 417.91 L294.01 417.36 L294.01 416.85 L294.14 416.4 L297.24 409.3 L297.49 408.9 L297.86 408.55 L298.35 408.27 L298.96 408.05 L299.68 407.88 L300.51 407.78 L301.45 407.75 L302.49 407.78 L303.61 407.87 L304.82 408.03 L306.11 408.24 L307.47 408.52 L308.89 408.86 L310.36 409.25 L311.88 409.7 L313.43 410.2 L315 410.75 L316.59 411.35 L318.19 411.98 L319.78 412.66 L321.35 413.36 L322.9 414.1 L324.42 414.86 L325.89 415.64 L327.31 416.44 L328.67 417.25 L329.96 418.06 L331.17 418.87 L332.3 419.68 L333.34 420.48 L334.27 421.26 L335.11 422.02 L335.83 422.76 L336.44 423.47 L336.94 424.15 L337.31 424.79 L337.56 425.39 L337.69 425.94 L337.69 426.45 L337.56 426.9 Z" fill="#fff" stroke="#1c1c1c" stroke-width="1.25" stroke-linejoin="round" stroke-linecap="round" />
<path d="M337.56 426.9 L337.69 425.94 L337.31 424.79 L336.44 423.47 L335.11 422.02 L333.34 420.48 L331.17 418.87 L328.67 417.25 L325.89 415.64 L322.9 414.1 L319.78 412.66 L316.59 411.35 L313.43 410.2 L310.36 409.25 L307.47 408.52 L304.82 408.03 L302.49 407.78 L300.51 407.78 L298.96 408.05 L297.86 408.55 L297.24 409.3 L297.11 410.26 L297.49 411.41 L298.36 412.73 L299.69 414.18 L301.46 415.72 L303.63 417.33 L306.13 418.95 L308.91 420.56 L311.9 422.1 L315.02 423.54 L318.21 424.85 L321.37 426 L324.44 426.95 L327.33 427.68 L329.98 428.17 L332.31 428.42 L334.29 428.42 L335.84 428.15 L336.94 427.65 L337.56 426.9 Z" fill="none" stroke="#1c1c1c" stroke-width="1.25" stroke-linejoin="round" stroke-linecap="round" />
<path d="M337.85 426.51 L337.57 426.91 L337.17 427.23 L336.65 427.49 L336.02 427.69 L335.27 427.81 L334.41 427.86 L333.45 427.84 L332.4 427.74 L331.25 427.58 L330.03 427.35 L328.72 427.05 L327.35 426.68 L325.92 426.25 L324.44 425.76 L322.92 425.21 L321.37 424.6 L319.8 423.95 L318.21 423.24 L316.62 422.5 L315.04 421.71 L313.48 420.9 L311.94 420.05 L310.44 419.18 L308.98 418.29 L307.58 417.39 L306.24 416.49 L304.97 415.58 L303.78 414.68 L302.68 413.78 L301.67 412.91 L300.76 412.05 L299.96 411.22 L299.27 410.42 L298.68 409.66 L298.22 408.94 L297.88 408.26 L297.66 407.63 L297.57 407.06 L297.6 406.54 L297.75 406.09 L300.45 400.79 L300.73 400.39 L301.13 400.07 L301.65 399.81 L302.28 399.61 L303.03 399.49 L303.89 399.44 L304.85 399.46 L305.9 399.56 L307.05 399.72 L308.27 399.95 L309.58 400.25 L310.95 400.62 L312.38 401.05 L313.86 401.54 L315.38 402.09 L316.93 402.7 L318.5 403.35 L320.09 404.06 L321.68 404.8 L323.26 405.59 L324.82 406.4 L326.36 407.25 L327.86 408.12 L329.32 409.01 L330.72 409.91 L332.06 410.81 L333.33 411.72 L334.52 412.62 L335.62 413.52 L336.63 414.39 L337.54 415.25 L338.34 416.08 L339.03 416.88 L339.62 417.64 L340.08 418.36 L340.42 419.04 L340.64 419.67 L340.73 420.24 L340.7 420.76 L340.55 421.21 Z" fill="#fff" stroke="#1c1c1c" stroke-width="1.25" stroke-linejoin="round" stroke-linecap="round" />
<path d="M340.55 421.21 L340.73 420.24 L340.42 419.04 L339.62 417.64 L338.34 416.08 L336.63 414.39 L334.52 412.62 L332.06 410.81 L329.32 409.01 L326.36 407.25 L323.26 405.59 L320.09 404.06 L316.93 402.7 L313.86 401.54 L310.95 400.62 L308.27 399.95 L305.9 399.56 L303.89 399.44 L302.28 399.61 L301.13 400.07 L300.45 400.79 L300.27 401.76 L300.58 402.96 L301.38 404.36 L302.66 405.92 L304.37 407.61 L306.48 409.38 L308.94 411.19 L311.68 412.99 L314.64 414.75 L317.74 416.41 L320.91 417.94 L324.07 419.3 L327.14 420.46 L330.05 421.38 L332.73 422.05 L335.1 422.44 L337.11 422.56 L338.72 422.39 L339.87 421.93 L340.55 421.21 Z" fill="none" stroke="#1c1c1c" stroke-width="1.25" stroke-linejoin="round" stroke-linecap="round" />
<path d="M371.5 294.5 L313.86 406.41 L313.78 406.72 L313.82 407.09 L313.98 407.5 L314.26 407.96 L314.65 408.46 L315.15 408.98 L315.75 409.51 L316.44 410.06 L317.2 410.6 L318.03 411.14 L318.9 411.65 L319.81 412.14 L320.74 412.59 L321.67 412.99 L322.59 413.35 L323.48 413.65 L324.32 413.88 L325.11 414.05 L325.82 414.15 L326.45 414.18 L326.99 414.13 L327.42 414.02 L327.74 413.83 L327.94 413.59 L386.5 300.5" fill="#fff" stroke="#1c1c1c" stroke-width="1.25" stroke-linejoin="round" stroke-linecap="round" />
<ellipse cx="379" cy="297.5" rx="7.8" ry="2.9" transform="rotate(25 379 297.5)" fill="none" stroke="#1c1c1c" stroke-width="1.25"/>
<path d="M376.79 517.22 L376.54 517.66 L376.18 518.05 L375.71 518.39 L375.12 518.67 L374.43 518.89 L373.63 519.05 L372.74 519.16 L371.75 519.21 L370.68 519.2 L369.53 519.12 L368.31 518.99 L367.02 518.8 L365.68 518.56 L364.29 518.25 L362.85 517.89 L361.39 517.49 L359.9 517.03 L358.41 516.52 L356.9 515.97 L355.41 515.39 L353.92 514.76 L352.46 514.11 L351.04 513.42 L349.65 512.71 L348.32 511.98 L347.05 511.24 L345.84 510.48 L344.7 509.72 L343.65 508.96 L342.68 508.2 L341.81 507.45 L341.03 506.71 L340.36 505.99 L339.79 505.29 L339.34 504.62 L339 503.97 L338.78 503.36 L338.67 502.79 L338.68 502.26 L338.81 501.78 L341.21 495.88 L341.46 495.44 L341.82 495.05 L342.29 494.71 L342.88 494.43 L343.57 494.21 L344.37 494.05 L345.26 493.94 L346.25 493.89 L347.32 493.9 L348.47 493.98 L349.69 494.11 L350.98 494.3 L352.32 494.54 L353.71 494.85 L355.15 495.21 L356.61 495.61 L358.1 496.07 L359.59 496.58 L361.1 497.13 L362.59 497.71 L364.08 498.34 L365.54 498.99 L366.96 499.68 L368.35 500.39 L369.68 501.12 L370.95 501.86 L372.16 502.62 L373.3 503.38 L374.35 504.14 L375.32 504.9 L376.19 505.65 L376.97 506.39 L377.64 507.11 L378.21 507.81 L378.66 508.48 L379 509.13 L379.22 509.74 L379.33 510.31 L379.32 510.84 L379.19 511.32 Z" fill="#fff" stroke="#1c1c1c" stroke-width="1.25" stroke-linejoin="round" stroke-linecap="round" />
<path d="M379.19 511.32 L379.33 510.31 L379 509.13 L378.21 507.81 L376.97 506.39 L375.32 504.9 L373.3 503.38 L370.95 501.86 L368.35 500.39 L365.54 498.99 L362.59 497.71 L359.59 496.58 L356.61 495.61 L353.71 494.85 L350.98 494.3 L348.47 493.98 L346.25 493.89 L344.37 494.05 L342.88 494.43 L341.82 495.05 L341.21 495.88 L341.07 496.89 L341.4 498.07 L342.19 499.39 L343.43 500.81 L345.08 502.3 L347.1 503.82 L349.45 505.34 L352.05 506.81 L354.86 508.21 L357.81 509.49 L360.81 510.62 L363.79 511.59 L366.69 512.35 L369.42 512.9 L371.93 513.22 L374.15 513.31 L376.03 513.15 L377.52 512.77 L378.58 512.15 L379.19 511.32 Z" fill="none" stroke="#1c1c1c" stroke-width="1.25" stroke-linejoin="round" stroke-linecap="round" />
<path d="M382.83 508.41 L382.59 508.85 L382.23 509.24 L381.76 509.58 L381.17 509.86 L380.48 510.09 L379.69 510.26 L378.8 510.37 L377.81 510.43 L376.74 510.42 L375.59 510.36 L374.37 510.23 L373.08 510.05 L371.73 509.81 L370.34 509.51 L368.9 509.16 L367.44 508.76 L365.95 508.31 L364.45 507.82 L362.94 507.28 L361.44 506.7 L359.95 506.08 L358.49 505.44 L357.06 504.76 L355.67 504.06 L354.34 503.34 L353.06 502.6 L351.84 501.85 L350.7 501.1 L349.64 500.34 L348.67 499.59 L347.79 498.84 L347.01 498.11 L346.34 497.39 L345.77 496.7 L345.31 496.02 L344.97 495.38 L344.74 494.77 L344.63 494.2 L344.64 493.67 L344.77 493.19 L346.77 488.19 L347.01 487.75 L347.37 487.36 L347.84 487.02 L348.43 486.74 L349.12 486.51 L349.91 486.34 L350.8 486.23 L351.79 486.17 L352.86 486.18 L354.01 486.24 L355.23 486.37 L356.52 486.55 L357.87 486.79 L359.26 487.09 L360.7 487.44 L362.16 487.84 L363.65 488.29 L365.15 488.78 L366.66 489.32 L368.16 489.9 L369.65 490.52 L371.11 491.16 L372.54 491.84 L373.93 492.54 L375.26 493.26 L376.54 494 L377.76 494.75 L378.9 495.5 L379.96 496.26 L380.93 497.01 L381.81 497.76 L382.59 498.49 L383.26 499.21 L383.83 499.9 L384.29 500.58 L384.63 501.22 L384.86 501.83 L384.97 502.4 L384.96 502.93 L384.83 503.41 Z" fill="#fff" stroke="#1c1c1c" stroke-width="1.25" stroke-linejoin="round" stroke-linecap="round" />
<path d="M384.83 503.41 L384.97 502.4 L384.63 501.22 L383.83 499.9 L382.59 498.49 L380.93 497.01 L378.9 495.5 L376.54 494 L373.93 492.54 L371.11 491.16 L368.16 489.9 L365.15 488.78 L362.16 487.84 L359.26 487.09 L356.52 486.55 L354.01 486.24 L351.79 486.17 L349.91 486.34 L348.43 486.74 L347.37 487.36 L346.77 488.19 L346.63 489.2 L346.97 490.38 L347.77 491.7 L349.01 493.11 L350.67 494.59 L352.7 496.1 L355.06 497.6 L357.67 499.06 L360.49 500.44 L363.44 501.7 L366.45 502.82 L369.44 503.76 L372.34 504.51 L375.08 505.05 L377.59 505.36 L379.81 505.43 L381.69 505.26 L383.17 504.86 L384.23 504.24 L384.83 503.41 Z" fill="none" stroke="#1c1c1c" stroke-width="1.25" stroke-linejoin="round" stroke-linecap="round" />
<ellipse cx="366.2" cy="495.8" rx="16.3" ry="4.6" transform="rotate(24 366.2 495.8)" fill="none" stroke="#1c1c1c" stroke-width="1.25"/>
<path d="M355.26 491.13 L355.57 491.07 L355.92 491.02 L356.29 491 L356.7 490.99 L357.13 491.01 L357.59 491.04 L358.08 491.1 L358.59 491.17 L359.12 491.26 L359.68 491.37 L360.25 491.5 L360.84 491.64 L361.44 491.8 L362.06 491.98 L362.69 492.18 L363.33 492.39 L363.97 492.61 L364.62 492.85 L365.27 493.11 L365.92 493.37 L366.57 493.65 L367.22 493.94 L367.86 494.23 L368.5 494.54 L369.12 494.86 L369.74 495.18 L370.34 495.5 L370.92 495.84 L371.49 496.17 L372.04 496.51 L372.56 496.85 L373.07 497.19 L373.55 497.53 L374 497.87 L374.42 498.21 L374.82 498.54 L375.19 498.86 L375.53 499.19 L375.83 499.5 L376.1 499.8" fill="none" stroke="#1c1c1c" stroke-width="0.9" stroke-linejoin="round" stroke-linecap="round" />
<path d="M369.5 530.6 L368.51 531.17 L367.15 531.52 L365.45 531.64 L363.45 531.51 L361.2 531.16 L358.74 530.58 L356.13 529.78 L353.43 528.79 L350.7 527.63 L348 526.32 L345.4 524.89 L342.94 523.38 L340.69 521.81 L338.7 520.23 L337.01 518.67 L335.66 517.17 L334.68 515.75 L334.09 514.45 L333.9 513.3 L334.12 512.33 L334.75 511.56 L335.77 511 L337.16 510.66 L338.88 510.57 L340.9 510.7 L343.17 511.08 L345.64 511.67 L348.26 512.48 L350.96 513.49 L353.69 514.66 L356.38 515.98 L358.98 517.41 L361.42 518.93 L363.65 520.5 L365.63 522.08 L367.3 523.63 L368.62 525.14 L369.58 526.55 L370.14 527.83 L370.3 528.97" fill="none" stroke="#1c1c1c" stroke-width="1.25" stroke-linejoin="round" stroke-linecap="round" />
<path d="M367.26 529.33 L366.42 529.6 L365.26 529.69 L363.81 529.59 L362.1 529.3 L360.18 528.84 L358.08 528.2 L355.84 527.41 L353.53 526.48 L351.18 525.43 L348.85 524.28 L346.6 523.07 L344.46 521.81 L342.49 520.54 L340.74 519.28 L339.23 518.06 L338.01 516.9 L337.09 515.84 L336.51 514.89 L336.27 514.08 L336.37 513.43 L336.82 512.94 L337.61 512.63 L338.71 512.51 L340.11 512.58 L341.78 512.83 L343.67 513.27 L345.74 513.88 L347.96 514.64 L350.26 515.55 L352.61 516.58 L354.94 517.71 L357.21 518.91 L359.37 520.17 L361.37 521.44 L363.17 522.7 L364.72 523.93 L366 525.1 L366.97 526.18 L367.61 527.15 L367.92 527.98" fill="none" stroke="#1c1c1c" stroke-width="1.25" stroke-linejoin="round" stroke-linecap="round" />
<path d="M370.6 526.5 Q372 530.5 369 531 Q366.5 531 366.6 527.5 Q367 524.5 369.6 523.5" fill="none" stroke="#1c1c1c" stroke-width="1.0" stroke-linejoin="round" stroke-linecap="round" />
<ellipse cx="345.7" cy="533.9" rx="20" ry="6" transform="rotate(26 345.7 533.9)" fill="none" stroke="#1c1c1c" stroke-width="1.25"/>
<ellipse cx="345.7" cy="533.9" rx="18" ry="4.5" transform="rotate(26 345.7 533.9)" fill="none" stroke="#1c1c1c" stroke-width="1.25"/>
<path d="M288 620 L429.03 701.59 L429.69 702.07 L430.25 702.69 L430.69 703.45 L431.02 704.33 L431.23 705.31 L431.32 706.37 L431.28 707.51 L431.11 708.7 L430.81 709.91 L430.4 711.13 L429.88 712.34 L429.26 713.52 L428.54 714.64 L427.75 715.7 L426.89 716.66 L425.97 717.51 L425.03 718.24 L424.06 718.84 L423.09 719.29 L422.13 719.59 L421.21 719.74 L420.33 719.72 L419.51 719.55 L418.77 719.21 L278.7 638 L278.17 637.91 L277.56 637.46 L277.04 636.86 L276.64 636.13 L276.35 635.27 L276.18 634.32 L276.13 633.27 L276.2 632.15 L276.39 630.98 L276.71 629.78 L277.13 628.56 L277.66 627.36 L278.29 626.18 L279 625.06 L279.79 624 L280.63 623.03 L281.53 622.16 L282.45 621.42 L283.39 620.8 L284.32 620.33 L285.24 620.01 L286.12 619.84 L286.96 619.83 L287.74 619.98 L288.43 620.29 Z" fill="#fff" stroke="#1c1c1c" stroke-width="1.25" stroke-linejoin="round" stroke-linecap="round" />
<path d="M278.17 637.91 L277.56 637.46 L277.04 636.86 L276.64 636.13 L276.35 635.27 L276.18 634.32 L276.13 633.27 L276.2 632.15 L276.39 630.98 L276.71 629.78 L277.13 628.56 L277.66 627.36 L278.29 626.18 L279 625.06 L279.79 624 L280.63 623.03 L281.53 622.16 L282.45 621.42 L283.39 620.8 L284.32 620.33 L285.24 620.01 L286.12 619.84 L286.96 619.83 L287.74 619.98 L288.43 620.29" fill="none" stroke="#1c1c1c" stroke-width="1.25" stroke-linejoin="round" stroke-linecap="round" />
<path d="M429.03 701.59 L429.69 702.07 L430.25 702.69 L430.69 703.45 L431.02 704.33 L431.23 705.31 L431.32 706.37 L431.28 707.51 L431.11 708.7 L430.81 709.91 L430.4 711.13 L429.88 712.34 L429.26 713.52 L428.54 714.64 L427.75 715.7 L426.89 716.66 L425.97 717.51 L425.03 718.24 L424.06 718.84 L423.09 719.29 L422.13 719.59 L421.21 719.74 L420.33 719.72 L419.51 719.55 L418.77 719.21" fill="none" stroke="#1c1c1c" stroke-width="1.25" stroke-linejoin="round" stroke-linecap="round" />
<ellipse cx="426.8" cy="709.5" rx="1.3" ry="2" transform="rotate(30 426.8 709.5)" fill="none" stroke="#1c1c1c" stroke-width="1.0"/>
<path d="M436.06 732.09 L435.61 731.89 L435.2 731.62 L434.81 731.29 L434.45 730.9 L434.13 730.46 L433.84 729.95 L433.6 729.4 L433.39 728.79 L433.22 728.15 L433.09 727.46 L433.01 726.73 L432.97 725.97 L432.97 725.19 L433.02 724.38 L433.11 723.55 L433.24 722.71 L433.42 721.86 L433.63 721.02 L433.88 720.17 L434.18 719.33 L434.5 718.51 L434.86 717.7 L435.26 716.92 L435.68 716.17 L436.13 715.44 L436.6 714.76 L437.09 714.12 L437.6 713.52 L438.13 712.97 L438.67 712.48 L439.21 712.04 L439.76 711.66 L440.32 711.34 L440.87 711.08 L441.41 710.89 L441.95 710.76 L442.47 710.7 L442.98 710.7 L443.47 710.77 L443.94 710.91 L461.14 717.31 L461.59 717.51 L462 717.78 L462.39 718.11 L462.75 718.5 L463.07 718.94 L463.36 719.45 L463.6 720 L463.81 720.61 L463.98 721.25 L464.11 721.94 L464.19 722.67 L464.23 723.43 L464.23 724.21 L464.18 725.02 L464.09 725.85 L463.96 726.69 L463.78 727.54 L463.57 728.38 L463.32 729.23 L463.02 730.07 L462.7 730.89 L462.34 731.7 L461.94 732.48 L461.52 733.23 L461.07 733.96 L460.6 734.64 L460.11 735.28 L459.6 735.88 L459.07 736.43 L458.53 736.92 L457.99 737.36 L457.44 737.74 L456.88 738.06 L456.33 738.32 L455.79 738.51 L455.25 738.64 L454.73 738.7 L454.22 738.7 L453.73 738.63 L453.26 738.49 Z" fill="#fff" stroke="#1c1c1c" stroke-width="1.25" stroke-linejoin="round" stroke-linecap="round" />
<path d="M450.22 741.85 L449.41 741.39 L448.65 740.85 L447.94 740.23 L447.29 739.53 L446.7 738.76 L446.17 737.93 L445.71 737.03 L445.32 736.07 L445.01 735.07 L444.77 734.02 L444.61 732.93 L444.52 731.81 L444.51 730.67 L444.58 729.51 L444.73 728.34 L444.96 727.17 L445.26 726 L445.63 724.85 L446.08 723.71 L446.6 722.6 L447.18 721.52 L447.82 720.48 L448.52 719.49 L449.27 718.55 L450.07 717.66 L450.92 716.84 L451.8 716.09 L452.72 715.41 L453.67 714.81 L454.63 714.28 L455.62 713.85 L456.61 713.5 L457.61 713.23 L458.6 713.06 L459.59 712.98 L460.56 712.99 L461.51 713.09 L462.43 713.29 L463.32 713.57 L464.18 713.95 L465.58 714.65 L466.39 715.11 L467.15 715.65 L467.86 716.27 L468.51 716.97 L469.1 717.74 L469.63 718.57 L470.09 719.47 L470.48 720.43 L470.79 721.43 L471.03 722.48 L471.19 723.57 L471.28 724.69 L471.29 725.83 L471.22 726.99 L471.07 728.16 L470.84 729.33 L470.54 730.5 L470.17 731.65 L469.72 732.79 L469.2 733.9 L468.62 734.98 L467.98 736.02 L467.28 737.01 L466.53 737.95 L465.73 738.84 L464.88 739.66 L464 740.41 L463.08 741.09 L462.13 741.69 L461.17 742.22 L460.18 742.65 L459.19 743 L458.19 743.27 L457.2 743.44 L456.21 743.52 L455.24 743.51 L454.29 743.41 L453.37 743.21 L452.48 742.93 L451.62 742.55 Z" fill="#fff" stroke="#1c1c1c" stroke-width="1.25" stroke-linejoin="round" stroke-linecap="round" />
<path d="M451.62 742.55 L453.37 743.21 L455.24 743.51 L457.2 743.44 L459.19 743 L461.17 742.22 L463.08 741.09 L464.88 739.66 L466.53 737.95 L467.98 736.02 L469.2 733.9 L470.17 731.65 L470.84 729.33 L471.22 726.99 L471.28 724.69 L471.03 722.48 L470.48 720.43 L469.63 718.57 L468.51 716.97 L467.15 715.65 L465.58 714.65 L463.83 713.99 L461.96 713.69 L460 713.76 L458.01 714.2 L456.03 714.98 L454.12 716.11 L452.32 717.54 L450.67 719.25 L449.22 721.18 L448 723.3 L447.03 725.55 L446.36 727.87 L445.98 730.21 L445.92 732.51 L446.17 734.72 L446.72 736.77 L447.57 738.63 L448.69 740.23 L450.05 741.55 L451.62 742.55 Z" fill="none" stroke="#1c1c1c" stroke-width="1.25" stroke-linejoin="round" stroke-linecap="round" />
<path d="M461.16 735.35 L460.43 735.96 L459.67 736.46 L458.9 736.84 L458.12 737.11 L457.34 737.24 L456.59 737.25 L455.87 737.14 L455.19 736.89 L454.57 736.53 L454 736.05 L453.51 735.46 L453.09 734.77 L452.77 733.99 L452.53 733.13 L452.38 732.21 L452.33 731.24 L452.38 730.24 L452.52 729.22 L452.76 728.19 L453.09 727.18 L453.5 726.19 L453.99 725.25 L454.55 724.36 L455.18 723.55 L455.86 722.82 L456.58 722.19 L457.33 721.66 L458.1 721.25 L458.88 720.95 L459.65 720.78 L460.41 720.74 L461.14 720.82 L461.83 721.03 L462.47 721.36 L463.06 721.82 L463.57 722.38 L464 723.04 L464.36 723.8 L464.62 724.63 L464.79 725.54" fill="none" stroke="#1c1c1c" stroke-width="1.25" stroke-linejoin="round" stroke-linecap="round" />
<path d="M84.56 536.34 L83.89 535.92 L83.26 535.43 L82.69 534.85 L82.17 534.19 L81.72 533.46 L81.32 532.66 L81 531.8 L80.74 530.88 L80.55 529.91 L80.43 528.89 L80.39 527.84 L80.41 526.74 L80.51 525.63 L80.67 524.49 L80.91 523.34 L81.22 522.18 L81.59 521.03 L82.02 519.88 L82.52 518.75 L83.08 517.64 L83.69 516.56 L84.35 515.52 L85.06 514.52 L85.81 513.57 L86.6 512.67 L87.43 511.83 L88.28 511.06 L89.15 510.36 L90.04 509.73 L90.95 509.18 L91.86 508.71 L92.77 508.32 L93.68 508.03 L94.57 507.82 L95.45 507.7 L96.31 507.67 L97.15 507.73 L97.95 507.89 L98.71 508.13 L99.44 508.46 L102.44 510.06 L103.11 510.48 L103.74 510.97 L104.31 511.55 L104.83 512.21 L105.28 512.94 L105.68 513.74 L106 514.6 L106.26 515.52 L106.45 516.49 L106.57 517.51 L106.61 518.56 L106.59 519.66 L106.49 520.77 L106.33 521.91 L106.09 523.06 L105.78 524.22 L105.41 525.37 L104.98 526.52 L104.48 527.65 L103.92 528.76 L103.31 529.84 L102.65 530.88 L101.94 531.88 L101.19 532.83 L100.4 533.73 L99.57 534.57 L98.72 535.34 L97.85 536.04 L96.96 536.67 L96.05 537.22 L95.14 537.69 L94.23 538.08 L93.32 538.37 L92.43 538.58 L91.55 538.7 L90.69 538.73 L89.85 538.67 L89.05 538.51 L88.29 538.27 L87.56 537.94 Z" fill="#fff" stroke="#1c1c1c" stroke-width="1.25" stroke-linejoin="round" stroke-linecap="round" />
<path d="M87.56 537.94 L89.05 538.51 L90.69 538.73 L92.43 538.58 L94.23 538.08 L96.05 537.22 L97.85 536.04 L99.57 534.57 L101.19 532.83 L102.65 530.88 L103.92 528.76 L104.98 526.52 L105.78 524.22 L106.33 521.91 L106.59 519.66 L106.57 517.51 L106.26 515.52 L105.68 513.74 L104.83 512.21 L103.74 510.97 L102.44 510.06 L100.95 509.49 L99.31 509.27 L97.57 509.42 L95.77 509.92 L93.95 510.78 L92.15 511.96 L90.43 513.43 L88.81 515.17 L87.35 517.12 L86.08 519.24 L85.02 521.48 L84.22 523.78 L83.67 526.09 L83.41 528.34 L83.43 530.49 L83.74 532.48 L84.32 534.26 L85.17 535.79 L86.26 537.03 L87.56 537.94 Z" fill="none" stroke="#1c1c1c" stroke-width="1.25" stroke-linejoin="round" stroke-linecap="round" />
<path d="M89.69 533.98 L89.28 533.72 L88.9 533.4 L88.56 533.02 L88.26 532.58 L88 532.1 L87.78 531.56 L87.61 530.98 L87.48 530.35 L87.4 529.69 L87.37 528.99 L87.38 528.26 L87.44 527.5 L87.55 526.72 L87.7 525.93 L87.9 525.12 L88.14 524.31 L88.43 523.49 L88.75 522.68 L89.11 521.87 L89.51 521.08 L89.95 520.31 L90.41 519.56 L90.9 518.83 L91.42 518.14 L91.96 517.48 L92.52 516.87 L93.1 516.3 L93.68 515.77 L94.28 515.3 L94.87 514.88 L95.47 514.52 L96.07 514.21 L96.66 513.97 L97.24 513.79 L97.81 513.67 L98.35 513.61 L98.88 513.62 L99.39 513.69 L99.86 513.83 L100.31 514.02 L115.81 522.27 L116.22 522.53 L116.6 522.85 L116.94 523.23 L117.24 523.67 L117.5 524.15 L117.72 524.69 L117.89 525.27 L118.02 525.9 L118.1 526.56 L118.13 527.26 L118.12 527.99 L118.06 528.75 L117.95 529.53 L117.8 530.32 L117.6 531.13 L117.36 531.94 L117.07 532.76 L116.75 533.57 L116.39 534.38 L115.99 535.17 L115.55 535.94 L115.09 536.69 L114.6 537.42 L114.08 538.11 L113.54 538.77 L112.98 539.38 L112.4 539.95 L111.82 540.48 L111.22 540.95 L110.63 541.37 L110.03 541.73 L109.43 542.04 L108.84 542.28 L108.26 542.46 L107.69 542.58 L107.15 542.64 L106.62 542.63 L106.11 542.56 L105.64 542.42 L105.19 542.23 Z" fill="#fff" stroke="#1c1c1c" stroke-width="1.25" stroke-linejoin="round" stroke-linecap="round" />
<path d="M105.19 542.23 L106.11 542.56 L107.15 542.64 L108.26 542.46 L109.43 542.04 L110.63 541.37 L111.82 540.48 L112.98 539.38 L114.08 538.11 L115.09 536.69 L115.99 535.17 L116.75 533.57 L117.36 531.94 L117.8 530.32 L118.06 528.75 L118.13 527.26 L118.02 525.9 L117.72 524.69 L117.24 523.67 L116.6 522.85 L115.81 522.27 L114.89 521.94 L113.85 521.86 L112.74 522.04 L111.57 522.46 L110.37 523.13 L109.18 524.02 L108.02 525.12 L106.92 526.39 L105.91 527.81 L105.01 529.33 L104.25 530.93 L103.64 532.56 L103.2 534.18 L102.94 535.75 L102.87 537.24 L102.98 538.6 L103.28 539.81 L103.76 540.83 L104.4 541.65 L105.19 542.23 Z" fill="none" stroke="#1c1c1c" stroke-width="1.25" stroke-linejoin="round" stroke-linecap="round" />
<ellipse cx="110.7" cy="532.35" rx="5.6" ry="9.4" transform="rotate(28 110.7 532.35)" fill="none" stroke="#1c1c1c" stroke-width="1.25"/>
<path d="M57.3 506.96 L51.85 507.34 L49.55 502.38 L52.7 497.04 L58.15 496.66 L60.45 501.62 L57.3 506.96 Z" fill="#fff" stroke="#1c1c1c" stroke-width="1.25" stroke-linejoin="round" stroke-linecap="round" />
<path d="M64.98 507.65 L64.3 508.66 L63.53 509.59 L62.69 510.41 L61.79 511.09 L60.86 511.62 L59.92 511.99 L59 512.18 L58.11 512.2 L57.28 512.05 L56.53 511.72 L55.88 511.22 L55.34 510.57 L54.93 509.78 L54.66 508.88 L54.53 507.88 L54.55 506.81 L54.71 505.69 L55.02 504.56 L55.46 503.44 L56.02 502.35 L56.7 501.34 L57.47 500.41 L58.31 499.59 L59.21 498.91 L60.14 498.38 L61.08 498.01 L62 497.82 L62.89 497.8 L63.72 497.95 L64.47 498.28 L65.12 498.78 L65.66 499.43 L66.07 500.22 L66.34 501.12 L66.47 502.12 L66.45 503.19 L66.29 504.31 L65.98 505.44 L65.54 506.56 L64.98 507.65 Z" fill="#fff" stroke="#1c1c1c" stroke-width="1.25" stroke-linejoin="round" stroke-linecap="round" />
<path d="M58.77 507.93 L74.17 517.03 L77.86 511.36 L78.04 511.61 L78.17 511.92 L78.25 512.29 L78.26 512.7 L78.22 513.15 L78.12 513.62 L77.97 514.1 L77.76 514.58 L77.51 515.05 L77.22 515.5 L76.9 515.91 L76.55 516.28 L76.19 516.59 L75.82 516.84 L75.45 517.03 L75.09 517.14 L74.75 517.18 L74.44 517.14 L77.63 511.17 L62.23 502.07 Z" fill="#fff" stroke="#1c1c1c" stroke-width="1.25" stroke-linejoin="round" stroke-linecap="round" />
<path d="M64.55 503.46 L64.64 503.55 L64.72 503.66 L64.79 503.78 L64.85 503.91 L64.9 504.06 L64.93 504.22 L64.96 504.39 L64.97 504.57 L64.96 504.76 L64.95 504.96 L64.92 505.17 L64.88 505.38 L64.83 505.6 L64.77 505.82 L64.69 506.05 L64.61 506.27 L64.51 506.5 L64.4 506.72 L64.29 506.95 L64.16 507.16 L64.03 507.38 L63.89 507.59 L63.75 507.79 L63.59 507.98 L63.44 508.17 L63.28 508.34 L63.11 508.5 L62.95 508.65 L62.78 508.79 L62.61 508.92 L62.44 509.02 L62.28 509.12 L62.11 509.2 L61.95 509.26 L61.8 509.31 L61.64 509.34 L61.5 509.35 L61.36 509.35 L61.23 509.33 L61.1 509.29" fill="none" stroke="#1c1c1c" stroke-width="0.85" stroke-linejoin="round" stroke-linecap="round" />
<path d="M66.75 504.76 L66.84 504.85 L66.92 504.96 L66.99 505.08 L67.05 505.21 L67.1 505.36 L67.13 505.52 L67.16 505.69 L67.17 505.87 L67.16 506.06 L67.15 506.26 L67.12 506.47 L67.08 506.68 L67.03 506.9 L66.97 507.12 L66.89 507.35 L66.81 507.57 L66.71 507.8 L66.6 508.02 L66.49 508.25 L66.36 508.46 L66.23 508.68 L66.09 508.89 L65.95 509.09 L65.79 509.28 L65.64 509.47 L65.48 509.64 L65.31 509.8 L65.15 509.95 L64.98 510.09 L64.81 510.22 L64.64 510.32 L64.48 510.42 L64.31 510.5 L64.15 510.56 L64 510.61 L63.84 510.64 L63.7 510.65 L63.56 510.65 L63.43 510.63 L63.3 510.59" fill="none" stroke="#1c1c1c" stroke-width="0.85" stroke-linejoin="round" stroke-linecap="round" />
<path d="M68.95 506.06 L69.04 506.15 L69.12 506.26 L69.19 506.38 L69.25 506.51 L69.3 506.66 L69.33 506.82 L69.36 506.99 L69.37 507.17 L69.36 507.36 L69.35 507.56 L69.32 507.77 L69.28 507.98 L69.23 508.2 L69.17 508.42 L69.09 508.65 L69.01 508.87 L68.91 509.1 L68.8 509.32 L68.69 509.55 L68.56 509.76 L68.43 509.98 L68.29 510.19 L68.15 510.39 L67.99 510.58 L67.84 510.77 L67.68 510.94 L67.51 511.1 L67.35 511.25 L67.18 511.39 L67.01 511.52 L66.84 511.62 L66.68 511.72 L66.51 511.8 L66.35 511.86 L66.2 511.91 L66.04 511.94 L65.9 511.95 L65.76 511.95 L65.63 511.93 L65.5 511.89" fill="none" stroke="#1c1c1c" stroke-width="0.85" stroke-linejoin="round" stroke-linecap="round" />
<path d="M71.15 507.36 L71.24 507.45 L71.32 507.56 L71.39 507.68 L71.45 507.81 L71.5 507.96 L71.53 508.12 L71.56 508.29 L71.57 508.47 L71.56 508.66 L71.55 508.86 L71.52 509.07 L71.48 509.28 L71.43 509.5 L71.37 509.72 L71.29 509.95 L71.21 510.17 L71.11 510.4 L71 510.62 L70.89 510.85 L70.76 511.06 L70.63 511.28 L70.49 511.49 L70.35 511.69 L70.19 511.88 L70.04 512.07 L69.88 512.24 L69.71 512.4 L69.55 512.55 L69.38 512.69 L69.21 512.82 L69.04 512.92 L68.88 513.02 L68.71 513.1 L68.55 513.16 L68.4 513.21 L68.24 513.24 L68.1 513.25 L67.96 513.25 L67.83 513.23 L67.7 513.19" fill="none" stroke="#1c1c1c" stroke-width="0.85" stroke-linejoin="round" stroke-linecap="round" />
<path d="M73.35 508.66 L73.44 508.75 L73.52 508.86 L73.59 508.98 L73.65 509.11 L73.7 509.26 L73.73 509.42 L73.76 509.59 L73.77 509.77 L73.76 509.96 L73.75 510.16 L73.72 510.37 L73.68 510.58 L73.63 510.8 L73.57 511.02 L73.49 511.25 L73.41 511.47 L73.31 511.7 L73.2 511.92 L73.09 512.15 L72.96 512.36 L72.83 512.58 L72.69 512.79 L72.55 512.99 L72.39 513.18 L72.24 513.37 L72.08 513.54 L71.91 513.7 L71.75 513.85 L71.58 513.99 L71.41 514.12 L71.24 514.22 L71.08 514.32 L70.91 514.4 L70.75 514.46 L70.6 514.51 L70.44 514.54 L70.3 514.55 L70.16 514.55 L70.03 514.53 L69.9 514.49" fill="none" stroke="#1c1c1c" stroke-width="0.85" stroke-linejoin="round" stroke-linecap="round" />
<path d="M75.55 509.96 L75.64 510.05 L75.72 510.16 L75.79 510.28 L75.85 510.41 L75.9 510.56 L75.93 510.72 L75.96 510.89 L75.97 511.07 L75.96 511.26 L75.95 511.46 L75.92 511.67 L75.88 511.88 L75.83 512.1 L75.77 512.32 L75.69 512.55 L75.61 512.77 L75.51 513 L75.4 513.22 L75.29 513.45 L75.16 513.66 L75.03 513.88 L74.89 514.09 L74.75 514.29 L74.59 514.48 L74.44 514.67 L74.28 514.84 L74.11 515 L73.95 515.15 L73.78 515.29 L73.61 515.42 L73.44 515.52 L73.28 515.62 L73.11 515.7 L72.95 515.76 L72.8 515.81 L72.64 515.84 L72.5 515.85 L72.36 515.85 L72.23 515.83 L72.1 515.79" fill="none" stroke="#1c1c1c" stroke-width="0.85" stroke-linejoin="round" stroke-linecap="round" />
<path d="M490.22 742.07 L473.22 732.07 L469.55 737.75 L469.36 737.49 L469.23 737.18 L469.16 736.81 L469.14 736.4 L469.18 735.96 L469.28 735.49 L469.43 735 L469.64 734.52 L469.89 734.05 L470.18 733.61 L470.5 733.19 L470.85 732.82 L471.21 732.51 L471.58 732.26 L471.95 732.07 L472.3 731.96 L472.64 731.92 L472.95 731.96 L469.78 737.93 L486.78 747.93 Z" fill="#fff" stroke="#1c1c1c" stroke-width="1.25" stroke-linejoin="round" stroke-linecap="round" />
<path d="M484.23 746.42 L484.13 746.33 L484.05 746.22 L483.98 746.1 L483.92 745.97 L483.88 745.82 L483.84 745.66 L483.82 745.49 L483.81 745.31 L483.81 745.12 L483.83 744.92 L483.85 744.71 L483.89 744.5 L483.94 744.28 L484.01 744.06 L484.08 743.83 L484.17 743.6 L484.26 743.38 L484.37 743.15 L484.48 742.93 L484.61 742.71 L484.74 742.49 L484.88 742.29 L485.02 742.08 L485.17 741.89 L485.33 741.71 L485.49 741.53 L485.65 741.37 L485.82 741.22 L485.99 741.08 L486.16 740.96 L486.32 740.85 L486.49 740.75 L486.65 740.67 L486.81 740.61 L486.97 740.56 L487.12 740.53 L487.27 740.52 L487.41 740.52 L487.54 740.54 L487.66 740.58" fill="none" stroke="#1c1c1c" stroke-width="0.85" stroke-linejoin="round" stroke-linecap="round" />
<path d="M481.8 744.99 L481.71 744.9 L481.62 744.79 L481.55 744.67 L481.5 744.54 L481.45 744.39 L481.41 744.23 L481.39 744.06 L481.38 743.88 L481.38 743.69 L481.4 743.49 L481.42 743.28 L481.46 743.07 L481.52 742.85 L481.58 742.63 L481.65 742.4 L481.74 742.18 L481.83 741.95 L481.94 741.72 L482.05 741.5 L482.18 741.28 L482.31 741.07 L482.45 740.86 L482.59 740.66 L482.75 740.46 L482.9 740.28 L483.06 740.1 L483.23 739.94 L483.39 739.79 L483.56 739.65 L483.73 739.53 L483.89 739.42 L484.06 739.32 L484.22 739.24 L484.38 739.18 L484.54 739.13 L484.69 739.1 L484.84 739.09 L484.98 739.09 L485.11 739.11 L485.23 739.15" fill="none" stroke="#1c1c1c" stroke-width="0.85" stroke-linejoin="round" stroke-linecap="round" />
<path d="M479.37 743.56 L479.28 743.47 L479.2 743.36 L479.13 743.24 L479.07 743.11 L479.02 742.96 L478.99 742.8 L478.96 742.63 L478.95 742.45 L478.95 742.26 L478.97 742.06 L479 741.85 L479.04 741.64 L479.09 741.42 L479.15 741.2 L479.22 740.97 L479.31 740.75 L479.4 740.52 L479.51 740.29 L479.63 740.07 L479.75 739.85 L479.88 739.64 L480.02 739.43 L480.17 739.23 L480.32 739.03 L480.47 738.85 L480.63 738.67 L480.8 738.51 L480.96 738.36 L481.13 738.22 L481.3 738.1 L481.47 737.99 L481.63 737.89 L481.8 737.82 L481.96 737.75 L482.11 737.7 L482.26 737.67 L482.41 737.66 L482.55 737.66 L482.68 737.68 L482.8 737.72" fill="none" stroke="#1c1c1c" stroke-width="0.85" stroke-linejoin="round" stroke-linecap="round" />
<path d="M476.94 742.13 L476.85 742.04 L476.77 741.93 L476.7 741.81 L476.64 741.68 L476.59 741.53 L476.56 741.37 L476.53 741.2 L476.52 741.02 L476.53 740.83 L476.54 740.63 L476.57 740.42 L476.61 740.21 L476.66 739.99 L476.72 739.77 L476.8 739.54 L476.88 739.32 L476.98 739.09 L477.08 738.87 L477.2 738.64 L477.32 738.42 L477.45 738.21 L477.59 738 L477.74 737.8 L477.89 737.6 L478.04 737.42 L478.21 737.25 L478.37 737.08 L478.53 736.93 L478.7 736.79 L478.87 736.67 L479.04 736.56 L479.2 736.47 L479.37 736.39 L479.53 736.32 L479.68 736.28 L479.84 736.25 L479.98 736.23 L480.12 736.23 L480.25 736.25 L480.38 736.29" fill="none" stroke="#1c1c1c" stroke-width="0.85" stroke-linejoin="round" stroke-linecap="round" />
<path d="M474.51 740.7 L474.42 740.61 L474.34 740.51 L474.27 740.39 L474.21 740.25 L474.16 740.1 L474.13 739.94 L474.11 739.77 L474.1 739.59 L474.1 739.4 L474.11 739.2 L474.14 738.99 L474.18 738.78 L474.23 738.56 L474.29 738.34 L474.37 738.12 L474.45 737.89 L474.55 737.66 L474.65 737.44 L474.77 737.21 L474.89 737 L475.02 736.78 L475.16 736.57 L475.31 736.37 L475.46 736.18 L475.62 735.99 L475.78 735.82 L475.94 735.65 L476.11 735.5 L476.27 735.37 L476.44 735.24 L476.61 735.13 L476.77 735.04 L476.94 734.96 L477.1 734.89 L477.26 734.85 L477.41 734.82 L477.55 734.8 L477.69 734.81 L477.82 734.83 L477.95 734.86" fill="none" stroke="#1c1c1c" stroke-width="0.85" stroke-linejoin="round" stroke-linecap="round" />
<path d="M472.08 739.27 L471.99 739.18 L471.91 739.08 L471.84 738.96 L471.78 738.82 L471.73 738.68 L471.7 738.52 L471.68 738.35 L471.67 738.16 L471.67 737.97 L471.68 737.77 L471.71 737.57 L471.75 737.35 L471.8 737.13 L471.86 736.91 L471.94 736.69 L472.02 736.46 L472.12 736.23 L472.22 736.01 L472.34 735.79 L472.46 735.57 L472.6 735.35 L472.73 735.14 L472.88 734.94 L473.03 734.75 L473.19 734.56 L473.35 734.39 L473.51 734.23 L473.68 734.08 L473.85 733.94 L474.01 733.81 L474.18 733.7 L474.35 733.61 L474.51 733.53 L474.67 733.47 L474.83 733.42 L474.98 733.39 L475.12 733.37 L475.26 733.38 L475.39 733.4 L475.52 733.43" fill="none" stroke="#1c1c1c" stroke-width="0.85" stroke-linejoin="round" stroke-linecap="round" />
<path d="M484.19 742.46 L484.83 741.5 L485.56 740.62 L486.36 739.85 L487.22 739.2 L488.11 738.7 L489 738.35 L489.89 738.17 L490.74 738.15 L491.53 738.3 L492.25 738.62 L492.88 739.1 L493.4 739.72 L493.8 740.47 L494.07 741.33 L494.2 742.28 L494.19 743.3 L494.04 744.36 L493.76 745.44 L493.34 746.51 L492.81 747.54 L492.17 748.5 L491.44 749.38 L490.64 750.15 L489.78 750.8 L488.89 751.3 L488 751.65 L487.11 751.83 L486.26 751.85 L485.47 751.7 L484.75 751.38 L484.12 750.9 L483.6 750.28 L483.2 749.53 L482.93 748.67 L482.8 747.72 L482.81 746.7 L482.96 745.64 L483.24 744.56 L483.66 743.49 L484.19 742.46 Z" fill="#fff" stroke="#1c1c1c" stroke-width="1.25" stroke-linejoin="round" stroke-linecap="round" />
<path d="M488.52 744.86 L493.31 741.85 L497.79 744.49 L497.48 750.14 L492.69 753.15 L488.21 750.51 L488.52 744.86 Z" fill="#fff" stroke="#1c1c1c" stroke-width="1.25" stroke-linejoin="round" stroke-linecap="round" />
<path d="M490.31 745.92 L490.62 745.47 L490.99 745.07 L491.4 744.73 L491.86 744.46 L492.35 744.26 L492.85 744.14 L493.35 744.11 L493.85 744.16 L494.32 744.29 L494.76 744.5 L495.16 744.78 L495.51 745.14 L495.79 745.55 L496.01 746 L496.15 746.5 L496.21 747.02 L496.2 747.55 L496.1 748.08 L495.93 748.59 L495.69 749.08 L495.38 749.53 L495.01 749.93 L494.6 750.27 L494.14 750.54 L493.65 750.74 L493.15 750.86 L492.65 750.89 L492.15 750.84 L491.68 750.71 L491.24 750.5 L490.84 750.22 L490.49 749.86 L490.21 749.45 L489.99 749 L489.85 748.5 L489.79 747.98 L489.8 747.45 L489.9 746.92 L490.07 746.41 L490.31 745.92" fill="none" stroke="#1c1c1c" stroke-width="0.9" stroke-linejoin="round" stroke-linecap="round" />
<ellipse cx="149.5" cy="648" rx="5.6" ry="4" transform="rotate(22 149.5 648)" fill="#fff" stroke="#1c1c1c" stroke-width="1.25"/>
<ellipse cx="149.5" cy="648" rx="2.6" ry="1.7" transform="rotate(22 149.5 648)" fill="none" stroke="#1c1c1c" stroke-width="1.25"/>
<path d="M154 651 L158.5 652.5 M153 653 L157.5 655" fill="none" stroke="#1c1c1c" stroke-width="1.0" stroke-linejoin="round" stroke-linecap="round" />
<path d="M158 651.5 Q166 654 174.5 657 M158 654.5 Q166 657 174.5 660" fill="none" stroke="#1c1c1c" stroke-width="1.1" stroke-linejoin="round" stroke-linecap="round" />
<path d="M174.5 657 L176 657.5 L175.5 660.5 L174 660 M177 658 L176.5 661" fill="none" stroke="#1c1c1c" stroke-width="1.0" stroke-linejoin="round" stroke-linecap="round" />
<path d="M177 657.5 Q185 660 190.5 664.5 L194.5 667.5 M176.5 660.5 Q184 663 189 666.5 L193 670" fill="none" stroke="#1c1c1c" stroke-width="1.1" stroke-linejoin="round" stroke-linecap="round" />
<path d="M190.5 664.5 L189.5 667" fill="none" stroke="#1c1c1c" stroke-width="1.0" stroke-linejoin="round" stroke-linecap="round" />
<ellipse cx="201.5" cy="671" rx="5.6" ry="4" transform="rotate(22 201.5 671)" fill="#fff" stroke="#1c1c1c" stroke-width="1.25"/>
<ellipse cx="201.5" cy="671" rx="2.6" ry="1.7" transform="rotate(22 201.5 671)" fill="none" stroke="#1c1c1c" stroke-width="1.25"/>
<path d="M146.4 664 L146.4 657.5 L148.5 656.5 L151.6 657.5 L151.6 664" fill="#fff" stroke="#1c1c1c" stroke-width="1.25" stroke-linejoin="round" stroke-linecap="round" />
<line x1="146.6" y1="659" x2="151.4" y2="658.4" stroke="#1c1c1c" stroke-width="0.8" stroke-linecap="round"/>
<line x1="146.6" y1="660.8" x2="151.4" y2="660.2" stroke="#1c1c1c" stroke-width="0.8" stroke-linecap="round"/>
<line x1="146.6" y1="662.6" x2="151.4" y2="662" stroke="#1c1c1c" stroke-width="0.8" stroke-linecap="round"/>
<path d="M154.4 668 L154.33 668.45 L154.14 668.9 L153.81 669.32 L153.37 669.7 L152.82 670.05 L152.17 670.35 L151.45 670.58 L150.67 670.76 L149.84 670.86 L149 670.9 L148.16 670.86 L147.33 670.76 L146.55 670.58 L145.83 670.35 L145.18 670.05 L144.63 669.7 L144.19 669.32 L143.86 668.9 L143.67 668.45 L143.6 668 L143.67 667.55 L143.86 667.1 L144.19 666.68 L144.63 666.3 L145.18 665.95 L145.83 665.65 L146.55 665.42 L147.33 665.24 L148.16 665.14 L149 665.1 L149.84 665.14 L150.67 665.24 L151.45 665.42 L152.17 665.65 L152.82 665.95 L153.37 666.3 L153.81 666.68 L154.14 667.1 L154.33 667.55 L154.4 668 Z" fill="#fff" stroke="#1c1c1c" stroke-width="1.25" stroke-linejoin="round" stroke-linecap="round" />
<path d="M154.4 669.5 L154.38 669.73 L154.33 669.95 L154.25 670.18 L154.14 670.4 L153.99 670.61 L153.81 670.82 L153.6 671.02 L153.37 671.2 L153.11 671.38 L152.82 671.55 L152.51 671.71 L152.17 671.85 L151.82 671.97 L151.45 672.08 L151.07 672.18 L150.67 672.26 L150.26 672.32 L149.84 672.36 L149.42 672.39 L149 672.4 L148.58 672.39 L148.16 672.36 L147.74 672.32 L147.33 672.26 L146.93 672.18 L146.55 672.08 L146.18 671.97 L145.83 671.85 L145.49 671.71 L145.18 671.55 L144.89 671.38 L144.63 671.2 L144.4 671.02 L144.19 670.82 L144.01 670.61 L143.86 670.4 L143.75 670.18 L143.67 669.95 L143.62 669.73 L143.6 669.5" fill="none" stroke="#1c1c1c" stroke-width="1.25" stroke-linejoin="round" stroke-linecap="round" />
<ellipse cx="149" cy="667.5" rx="2.8" ry="1.2" transform="rotate(0 149 667.5)" fill="none" stroke="#1c1c1c" stroke-width="0.9"/>
<path d="M108.6 258.2 Q124 255.5 141.6 263.8 Q152 269 156.6 275.1 Q163 282 164.2 301.5 L163.2 348.6 L157.6 358 L132.2 403.2 Q128 405 124 403 L119.9 402.3 L115.2 388.2 Q113 375 110.5 369.3 Q104 361 100.1 358 Q91 349 87 343 Q77 325 75.7 310 Q74 297 79.4 280.8 Q84 270 90.7 265.7 Q99 259.5 108.6 258.2 Z" fill="#fff" stroke="#1c1c1c" stroke-width="1.25" stroke-linejoin="round" stroke-linecap="round" />
<path d="M116.1 294.9 L149 279 Q154 276.5 156.6 277" fill="none" stroke="#1c1c1c" stroke-width="1.25" stroke-linejoin="round" stroke-linecap="round" />
<path d="M109.6 314.7 L109.6 358" fill="none" stroke="#1c1c1c" stroke-width="1.25" stroke-linejoin="round" stroke-linecap="round" />
<path d="M126.45 310 L126.45 351 A1.95 1.95 0 0 0 130.35 351 L130.35 310 A1.95 1.95 0 0 0 126.45 310 Z M148.05 299 L148.05 345.5 A1.95 1.95 0 0 0 151.95 345.5 L151.95 299 A1.95 1.95 0 0 0 148.05 299 Z M119.82 339.27 L160.82 320.27 A1.95 1.95 0 0 0 159.18 316.73 L118.18 335.73 A1.95 1.95 0 0 0 119.82 339.27 Z M119.87 362.24 L160.87 341.74 A1.95 1.95 0 0 0 159.13 338.26 L118.13 358.76 A1.95 1.95 0 0 0 119.87 362.24 Z" fill="none" stroke="#1c1c1c" stroke-width="2.3"/>
<path d="M126.45 310 L126.45 351 A1.95 1.95 0 0 0 130.35 351 L130.35 310 A1.95 1.95 0 0 0 126.45 310 Z M148.05 299 L148.05 345.5 A1.95 1.95 0 0 0 151.95 345.5 L151.95 299 A1.95 1.95 0 0 0 148.05 299 Z M119.82 339.27 L160.82 320.27 A1.95 1.95 0 0 0 159.18 316.73 L118.18 335.73 A1.95 1.95 0 0 0 119.82 339.27 Z M119.87 362.24 L160.87 341.74 A1.95 1.95 0 0 0 159.13 338.26 L118.13 358.76 A1.95 1.95 0 0 0 119.87 362.24 Z" fill="#fff" stroke="none"/>
<path d="M117.1 367.4 L155.7 353.3 Q158 354 157.6 358 L132.2 403.2" fill="none" stroke="#1c1c1c" stroke-width="1.25" stroke-linejoin="round" stroke-linecap="round" />
<path d="M118 370.3 L156.6 356.1" fill="none" stroke="#1c1c1c" stroke-width="1.0" stroke-linejoin="round" stroke-linecap="round" />
<path d="M117.1 367.4 L120.9 401.3 M115.2 369 L119 400" fill="none" stroke="#1c1c1c" stroke-width="1.0" stroke-linejoin="round" stroke-linecap="round" />
<path d="M126.69 379.5 L126.43 379.75 L126.14 379.96 L125.83 380.14 L125.51 380.28 L125.17 380.38 L124.82 380.44 L124.47 380.45 L124.12 380.43 L123.78 380.37 L123.44 380.26 L123.12 380.11 L122.81 379.93 L122.53 379.71 L122.27 379.46 L122.04 379.18 L121.84 378.88 L121.68 378.55 L121.55 378.21 L121.46 377.85 L121.41 377.48 L121.4 377.11 L121.43 376.75 L121.5 376.39 L121.61 376.03 L121.75 375.7 L121.93 375.38 L122.14 375.09 L122.39 374.82 L122.66 374.58 L122.95 374.38 L123.26 374.21 L123.59 374.09 L123.94 374 L124.28 373.95 L124.64 373.95 L124.98 373.99 L125.33 374.06 L125.66 374.18 L125.98 374.34 L126.28 374.53" fill="none" stroke="#1c1c1c" stroke-width="1.25" stroke-linejoin="round" stroke-linecap="round" />
<path d="M141.17 378.42 L140.81 378.75 L140.43 379.04 L140.01 379.28 L139.57 379.47 L139.11 379.61 L138.64 379.69 L138.16 379.71 L137.69 379.68 L137.22 379.59 L136.76 379.44 L136.33 379.25 L135.91 379 L135.53 378.7 L135.18 378.36 L134.87 377.98 L134.6 377.57 L134.38 377.13 L134.21 376.66 L134.08 376.18 L134.02 375.68 L134 375.18 L134.04 374.69 L134.13 374.2 L134.28 373.72 L134.47 373.26 L134.72 372.83 L135.01 372.44 L135.34 372.07 L135.7 371.75 L136.1 371.48 L136.53 371.26 L136.97 371.08 L137.43 370.96 L137.91 370.9 L138.38 370.89 L138.86 370.94 L139.32 371.05 L139.77 371.21 L140.2 371.42 L140.61 371.69" fill="none" stroke="#1c1c1c" stroke-width="1.25" stroke-linejoin="round" stroke-linecap="round" />
<path d="M153.39 364.3 L153.13 364.55 L152.84 364.76 L152.53 364.94 L152.21 365.08 L151.87 365.18 L151.52 365.24 L151.17 365.25 L150.82 365.23 L150.48 365.17 L150.14 365.06 L149.82 364.91 L149.51 364.73 L149.23 364.51 L148.97 364.26 L148.74 363.98 L148.54 363.68 L148.38 363.35 L148.25 363.01 L148.16 362.65 L148.11 362.28 L148.1 361.91 L148.13 361.55 L148.2 361.19 L148.31 360.83 L148.45 360.5 L148.63 360.18 L148.84 359.89 L149.09 359.62 L149.36 359.38 L149.65 359.18 L149.96 359.01 L150.29 358.89 L150.64 358.8 L150.98 358.75 L151.34 358.75 L151.68 358.79 L152.03 358.86 L152.36 358.98 L152.68 359.14 L152.98 359.33" fill="none" stroke="#1c1c1c" stroke-width="1.25" stroke-linejoin="round" stroke-linecap="round" />
<path d="M134.19 401.5 L133.93 401.75 L133.64 401.96 L133.33 402.14 L133.01 402.28 L132.67 402.38 L132.32 402.44 L131.97 402.45 L131.62 402.43 L131.28 402.37 L130.94 402.26 L130.62 402.11 L130.31 401.93 L130.03 401.71 L129.77 401.46 L129.54 401.18 L129.34 400.88 L129.18 400.55 L129.05 400.21 L128.96 399.85 L128.91 399.48 L128.9 399.11 L128.93 398.75 L129 398.39 L129.11 398.03 L129.25 397.7 L129.43 397.38 L129.64 397.09 L129.89 396.82 L130.16 396.58 L130.45 396.38 L130.76 396.21 L131.09 396.09 L131.44 396 L131.78 395.95 L132.14 395.95 L132.48 395.99 L132.83 396.06 L133.16 396.18 L133.48 396.34 L133.78 396.53" fill="none" stroke="#1c1c1c" stroke-width="1.25" stroke-linejoin="round" stroke-linecap="round" />
<path d="M163.5 247.5 Q165.5 246 168 247.3 L172.2 250.8 Q173.8 252.5 172.8 255 L168.3 260.3 Q166.5 262 164 261 L159.5 257 Q157.6 255 158.6 252.6 Z" fill="#fff" stroke="#1c1c1c" stroke-width="1.25" stroke-linejoin="round" stroke-linecap="round" />
<path d="M159.6 254.4 L166.3 260.3" fill="none" stroke="#1c1c1c" stroke-width="1.0" stroke-linejoin="round" stroke-linecap="round" />
<path d="M160.7 258.8 L158.2 262.3 L166 279.6 M167.4 282.6 L169.1 286.3 M170 288.2 L177.6 305.1 L167.3 315.8" fill="none" stroke="#1c1c1c" stroke-width="1.05" stroke-linejoin="round" stroke-linecap="round" />
<path d="M94.86 380.94 L89.63 381.78 L87.07 377.15 L89.74 371.66 L94.97 370.82 L97.53 375.45 L94.86 380.94 Z" fill="#fff" stroke="#1c1c1c" stroke-width="1.25" stroke-linejoin="round" stroke-linecap="round" />
<path d="M101.54 380.75 L100.97 381.75 L100.3 382.66 L99.54 383.46 L98.7 384.14 L97.8 384.67 L96.88 385.05 L95.94 385.26 L95.02 385.3 L94.13 385.17 L93.31 384.86 L92.56 384.4 L91.91 383.79 L91.37 383.04 L90.96 382.17 L90.68 381.21 L90.55 380.18 L90.56 379.1 L90.72 378 L91.03 376.91 L91.46 375.85 L92.03 374.85 L92.7 373.94 L93.46 373.14 L94.3 372.46 L95.2 371.93 L96.12 371.55 L97.06 371.34 L97.98 371.3 L98.87 371.43 L99.69 371.74 L100.44 372.2 L101.09 372.81 L101.63 373.56 L102.04 374.43 L102.32 375.39 L102.45 376.42 L102.44 377.5 L102.28 378.6 L101.97 379.69 L101.54 380.75 Z" fill="#fff" stroke="#1c1c1c" stroke-width="1.25" stroke-linejoin="round" stroke-linecap="round" />
<path d="M95.23 380.91 L106.53 386.41 L109.28 381.33 L109.45 381.54 L109.58 381.79 L109.67 382.1 L109.71 382.45 L109.71 382.83 L109.65 383.24 L109.56 383.66 L109.42 384.08 L109.23 384.5 L109.02 384.9 L108.77 385.27 L108.5 385.61 L108.21 385.9 L107.92 386.14 L107.62 386.32 L107.32 386.44 L107.04 386.5 L106.77 386.48 L109.07 381.19 L97.77 375.69 Z" fill="#fff" stroke="#1c1c1c" stroke-width="1.25" stroke-linejoin="round" stroke-linecap="round" />
<path d="M99.76 376.67 L99.85 376.75 L99.92 376.83 L99.99 376.93 L100.05 377.04 L100.1 377.16 L100.14 377.29 L100.17 377.44 L100.19 377.59 L100.2 377.75 L100.2 377.92 L100.19 378.1 L100.17 378.28 L100.15 378.47 L100.11 378.67 L100.06 378.86 L100 379.06 L99.94 379.26 L99.86 379.46 L99.78 379.66 L99.69 379.85 L99.59 380.04 L99.49 380.23 L99.37 380.41 L99.26 380.59 L99.14 380.75 L99.01 380.91 L98.89 381.06 L98.75 381.2 L98.62 381.33 L98.49 381.45 L98.35 381.55 L98.22 381.64 L98.08 381.72 L97.95 381.79 L97.82 381.84 L97.69 381.87 L97.57 381.89 L97.45 381.9 L97.34 381.89 L97.23 381.87" fill="none" stroke="#1c1c1c" stroke-width="0.85" stroke-linejoin="round" stroke-linecap="round" />
<path d="M101.64 377.59 L101.73 377.66 L101.81 377.75 L101.87 377.84 L101.93 377.95 L101.98 378.08 L102.02 378.21 L102.05 378.35 L102.07 378.51 L102.08 378.67 L102.09 378.84 L102.08 379.02 L102.06 379.2 L102.03 379.39 L101.99 379.58 L101.94 379.78 L101.88 379.98 L101.82 380.18 L101.74 380.38 L101.66 380.57 L101.57 380.77 L101.47 380.96 L101.37 381.15 L101.26 381.33 L101.14 381.5 L101.02 381.67 L100.9 381.83 L100.77 381.98 L100.64 382.12 L100.5 382.25 L100.37 382.36 L100.24 382.47 L100.1 382.56 L99.97 382.64 L99.83 382.7 L99.71 382.75 L99.58 382.79 L99.46 382.81 L99.34 382.82 L99.22 382.81 L99.12 382.79" fill="none" stroke="#1c1c1c" stroke-width="0.85" stroke-linejoin="round" stroke-linecap="round" />
<path d="M103.53 378.51 L103.61 378.58 L103.69 378.66 L103.76 378.76 L103.82 378.87 L103.86 378.99 L103.91 379.13 L103.94 379.27 L103.96 379.42 L103.97 379.59 L103.97 379.76 L103.96 379.93 L103.94 380.12 L103.91 380.31 L103.87 380.5 L103.83 380.7 L103.77 380.89 L103.7 381.09 L103.63 381.29 L103.54 381.49 L103.45 381.68 L103.36 381.88 L103.25 382.06 L103.14 382.24 L103.03 382.42 L102.91 382.59 L102.78 382.75 L102.65 382.89 L102.52 383.03 L102.39 383.16 L102.25 383.28 L102.12 383.38 L101.98 383.48 L101.85 383.55 L101.72 383.62 L101.59 383.67 L101.46 383.71 L101.34 383.73 L101.22 383.73 L101.11 383.73 L101 383.7" fill="none" stroke="#1c1c1c" stroke-width="0.85" stroke-linejoin="round" stroke-linecap="round" />
<path d="M105.41 379.42 L105.5 379.5 L105.57 379.58 L105.64 379.68 L105.7 379.79 L105.75 379.91 L105.79 380.04 L105.82 380.19 L105.84 380.34 L105.85 380.5 L105.85 380.67 L105.84 380.85 L105.82 381.03 L105.8 381.22 L105.76 381.42 L105.71 381.61 L105.65 381.81 L105.59 382.01 L105.51 382.21 L105.43 382.41 L105.34 382.6 L105.24 382.79 L105.14 382.98 L105.02 383.16 L104.91 383.34 L104.79 383.5 L104.66 383.66 L104.54 383.81 L104.4 383.95 L104.27 384.08 L104.14 384.2 L104 384.3 L103.87 384.39 L103.73 384.47 L103.6 384.54 L103.47 384.59 L103.34 384.62 L103.22 384.64 L103.1 384.65 L102.99 384.64 L102.88 384.62" fill="none" stroke="#1c1c1c" stroke-width="0.85" stroke-linejoin="round" stroke-linecap="round" />
<path d="M107.29 380.34 L107.38 380.41 L107.46 380.5 L107.52 380.59 L107.58 380.7 L107.63 380.83 L107.67 380.96 L107.7 381.1 L107.72 381.26 L107.73 381.42 L107.74 381.59 L107.73 381.77 L107.71 381.95 L107.68 382.14 L107.64 382.33 L107.59 382.53 L107.53 382.73 L107.47 382.93 L107.39 383.13 L107.31 383.32 L107.22 383.52 L107.12 383.71 L107.02 383.9 L106.91 384.08 L106.79 384.25 L106.67 384.42 L106.55 384.58 L106.42 384.73 L106.29 384.87 L106.15 385 L106.02 385.11 L105.89 385.22 L105.75 385.31 L105.62 385.39 L105.48 385.45 L105.36 385.5 L105.23 385.54 L105.11 385.56 L104.99 385.57 L104.87 385.56 L104.77 385.54" fill="none" stroke="#1c1c1c" stroke-width="0.85" stroke-linejoin="round" stroke-linecap="round" />
<ellipse cx="155.7" cy="384.9" rx="3.4" ry="5" transform="rotate(20 155.7 384.9)" fill="none" stroke="#1c1c1c" stroke-width="1.25"/>
<ellipse cx="155.7" cy="384.9" rx="1.8" ry="3.2" transform="rotate(20 155.7 384.9)" fill="none" stroke="#1c1c1c" stroke-width="1.25"/>
</svg></body></html>
